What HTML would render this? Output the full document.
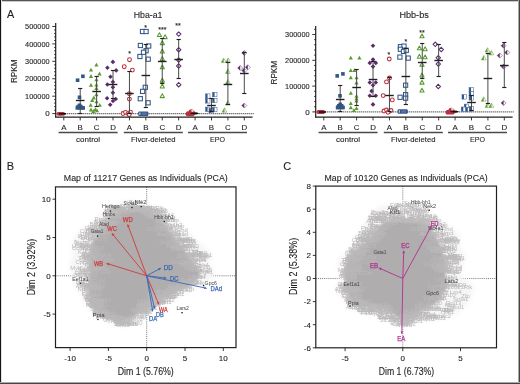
<!DOCTYPE html>
<html><head><meta charset="utf-8"><style>
html,body{margin:0;padding:0;background:#fff;}
svg{display:block;will-change:transform;font-family:"Liberation Sans",sans-serif;}
</style></head><body>
<svg width="520" height="384" viewBox="0 0 520 384">
<defs>
<filter id="blur1" x="-10%" y="-10%" width="120%" height="120%"><feGaussianBlur stdDeviation="0.8"/></filter>
<filter id="blur2" x="-10%" y="-10%" width="120%" height="120%"><feGaussianBlur stdDeviation="2.5"/></filter>
</defs>
<rect x="0" y="0" width="520" height="384" fill="#fff"/>
<line x1="56.70" y1="113.60" x2="253.60" y2="113.60" stroke="#3a3a3a" stroke-width="1.2" stroke-dasharray="1,1"/>
<line x1="52.30" y1="113.60" x2="55.70" y2="113.60" stroke="#231f20" stroke-width="0.9" />
<line x1="52.30" y1="96.18" x2="55.70" y2="96.18" stroke="#231f20" stroke-width="0.9" />
<line x1="52.30" y1="78.76" x2="55.70" y2="78.76" stroke="#231f20" stroke-width="0.9" />
<line x1="52.30" y1="61.34" x2="55.70" y2="61.34" stroke="#231f20" stroke-width="0.9" />
<line x1="52.30" y1="43.92" x2="55.70" y2="43.92" stroke="#231f20" stroke-width="0.9" />
<line x1="52.30" y1="26.50" x2="55.70" y2="26.50" stroke="#231f20" stroke-width="0.9" />
<line x1="54.10" y1="110.12" x2="55.70" y2="110.12" stroke="#231f20" stroke-width="0.9" />
<line x1="54.10" y1="106.63" x2="55.70" y2="106.63" stroke="#231f20" stroke-width="0.9" />
<line x1="54.10" y1="103.15" x2="55.70" y2="103.15" stroke="#231f20" stroke-width="0.9" />
<line x1="54.10" y1="99.66" x2="55.70" y2="99.66" stroke="#231f20" stroke-width="0.9" />
<line x1="54.10" y1="92.70" x2="55.70" y2="92.70" stroke="#231f20" stroke-width="0.9" />
<line x1="54.10" y1="89.21" x2="55.70" y2="89.21" stroke="#231f20" stroke-width="0.9" />
<line x1="54.10" y1="85.73" x2="55.70" y2="85.73" stroke="#231f20" stroke-width="0.9" />
<line x1="54.10" y1="82.24" x2="55.70" y2="82.24" stroke="#231f20" stroke-width="0.9" />
<line x1="54.10" y1="75.28" x2="55.70" y2="75.28" stroke="#231f20" stroke-width="0.9" />
<line x1="54.10" y1="71.79" x2="55.70" y2="71.79" stroke="#231f20" stroke-width="0.9" />
<line x1="54.10" y1="68.31" x2="55.70" y2="68.31" stroke="#231f20" stroke-width="0.9" />
<line x1="54.10" y1="64.82" x2="55.70" y2="64.82" stroke="#231f20" stroke-width="0.9" />
<line x1="54.10" y1="57.86" x2="55.70" y2="57.86" stroke="#231f20" stroke-width="0.9" />
<line x1="54.10" y1="54.37" x2="55.70" y2="54.37" stroke="#231f20" stroke-width="0.9" />
<line x1="54.10" y1="50.89" x2="55.70" y2="50.89" stroke="#231f20" stroke-width="0.9" />
<line x1="54.10" y1="47.40" x2="55.70" y2="47.40" stroke="#231f20" stroke-width="0.9" />
<line x1="54.10" y1="40.44" x2="55.70" y2="40.44" stroke="#231f20" stroke-width="0.9" />
<line x1="54.10" y1="36.95" x2="55.70" y2="36.95" stroke="#231f20" stroke-width="0.9" />
<line x1="54.10" y1="33.47" x2="55.70" y2="33.47" stroke="#231f20" stroke-width="0.9" />
<line x1="54.10" y1="29.98" x2="55.70" y2="29.98" stroke="#231f20" stroke-width="0.9" />
<text x="49.60" y="116.30" font-size="8.0" text-anchor="end" fill="#231f20" stroke="#231f20" stroke-width="0.12" >0</text>
<text x="49.60" y="98.88" font-size="8.0" text-anchor="end" fill="#231f20" stroke="#231f20" stroke-width="0.12" textLength="24.5" lengthAdjust="spacingAndGlyphs" >100000</text>
<text x="49.60" y="81.46" font-size="8.0" text-anchor="end" fill="#231f20" stroke="#231f20" stroke-width="0.12" textLength="24.5" lengthAdjust="spacingAndGlyphs" >200000</text>
<text x="49.60" y="64.04" font-size="8.0" text-anchor="end" fill="#231f20" stroke="#231f20" stroke-width="0.12" textLength="24.5" lengthAdjust="spacingAndGlyphs" >300000</text>
<text x="49.60" y="46.62" font-size="8.0" text-anchor="end" fill="#231f20" stroke="#231f20" stroke-width="0.12" textLength="24.5" lengthAdjust="spacingAndGlyphs" >400000</text>
<text x="49.60" y="29.20" font-size="8.0" text-anchor="end" fill="#231f20" stroke="#231f20" stroke-width="0.12" textLength="24.5" lengthAdjust="spacingAndGlyphs" >500000</text>
<line x1="63.80" y1="117.10" x2="63.80" y2="120.40" stroke="#231f20" stroke-width="0.9" />
<text x="63.80" y="130.20" font-size="7.9" text-anchor="middle" fill="#231f20" stroke="#231f20" stroke-width="0.12" >A</text>
<line x1="80.21" y1="117.10" x2="80.21" y2="120.40" stroke="#231f20" stroke-width="0.9" />
<text x="80.21" y="130.20" font-size="7.9" text-anchor="middle" fill="#231f20" stroke="#231f20" stroke-width="0.12" >B</text>
<line x1="96.62" y1="117.10" x2="96.62" y2="120.40" stroke="#231f20" stroke-width="0.9" />
<text x="96.62" y="130.20" font-size="7.9" text-anchor="middle" fill="#231f20" stroke="#231f20" stroke-width="0.12" >C</text>
<line x1="113.03" y1="117.10" x2="113.03" y2="120.40" stroke="#231f20" stroke-width="0.9" />
<text x="113.03" y="130.20" font-size="7.9" text-anchor="middle" fill="#231f20" stroke="#231f20" stroke-width="0.12" >D</text>
<line x1="129.44" y1="117.10" x2="129.44" y2="120.40" stroke="#231f20" stroke-width="0.9" />
<text x="129.44" y="130.20" font-size="7.9" text-anchor="middle" fill="#231f20" stroke="#231f20" stroke-width="0.12" >A</text>
<line x1="145.85" y1="117.10" x2="145.85" y2="120.40" stroke="#231f20" stroke-width="0.9" />
<text x="145.85" y="130.20" font-size="7.9" text-anchor="middle" fill="#231f20" stroke="#231f20" stroke-width="0.12" >B</text>
<line x1="162.26" y1="117.10" x2="162.26" y2="120.40" stroke="#231f20" stroke-width="0.9" />
<text x="162.26" y="130.20" font-size="7.9" text-anchor="middle" fill="#231f20" stroke="#231f20" stroke-width="0.12" >C</text>
<line x1="178.67" y1="117.10" x2="178.67" y2="120.40" stroke="#231f20" stroke-width="0.9" />
<text x="178.67" y="130.20" font-size="7.9" text-anchor="middle" fill="#231f20" stroke="#231f20" stroke-width="0.12" >D</text>
<line x1="195.08" y1="117.10" x2="195.08" y2="120.40" stroke="#231f20" stroke-width="0.9" />
<text x="195.08" y="130.20" font-size="7.9" text-anchor="middle" fill="#231f20" stroke="#231f20" stroke-width="0.12" >A</text>
<line x1="211.49" y1="117.10" x2="211.49" y2="120.40" stroke="#231f20" stroke-width="0.9" />
<text x="211.49" y="130.20" font-size="7.9" text-anchor="middle" fill="#231f20" stroke="#231f20" stroke-width="0.12" >B</text>
<line x1="227.90" y1="117.10" x2="227.90" y2="120.40" stroke="#231f20" stroke-width="0.9" />
<text x="227.90" y="130.20" font-size="7.9" text-anchor="middle" fill="#231f20" stroke="#231f20" stroke-width="0.12" >C</text>
<line x1="244.31" y1="117.10" x2="244.31" y2="120.40" stroke="#231f20" stroke-width="0.9" />
<text x="244.31" y="130.20" font-size="7.9" text-anchor="middle" fill="#231f20" stroke="#231f20" stroke-width="0.12" >D</text>
<line x1="58.60" y1="132.50" x2="117.60" y2="132.50" stroke="#4a4a4a" stroke-width="1.4" />
<text x="88.10" y="142.40" font-size="7.9" text-anchor="middle" fill="#231f20" stroke="#231f20" stroke-width="0.12" textLength="24.0" lengthAdjust="spacingAndGlyphs" >control</text>
<line x1="123.80" y1="132.50" x2="182.80" y2="132.50" stroke="#4a4a4a" stroke-width="1.4" />
<text x="153.30" y="142.40" font-size="7.9" text-anchor="middle" fill="#231f20" stroke="#231f20" stroke-width="0.12" textLength="44.5" lengthAdjust="spacingAndGlyphs" >Flvcr-deleted</text>
<line x1="188.00" y1="132.50" x2="247.00" y2="132.50" stroke="#4a4a4a" stroke-width="1.4" />
<text x="217.50" y="142.40" font-size="7.9" text-anchor="middle" fill="#231f20" stroke="#231f20" stroke-width="0.12" textLength="15.0" lengthAdjust="spacingAndGlyphs" >EPO</text>
<text x="148.10" y="18.40" font-size="9.6" text-anchor="middle" fill="#231f20" stroke="#231f20" stroke-width="0.12" textLength="28.8" lengthAdjust="spacingAndGlyphs" >Hba-a1</text>
<text transform="translate(16.50,71.3) rotate(-90)" font-size="8.4" text-anchor="middle" fill="#231f20" stroke="#231f20" stroke-width="0.12" textLength="23.6" lengthAdjust="spacingAndGlyphs">RPKM</text>
<rect x="75.80" y="78.40" width="3.6" height="3.6" fill="#33568a"/>
<rect x="81.10" y="74.50" width="3.6" height="3.6" fill="#33568a"/>
<rect x="77.70" y="95.50" width="3.6" height="3.6" fill="#33568a"/>
<rect x="77.70" y="103.50" width="3.6" height="3.6" fill="#33568a"/>
<rect x="76.40" y="104.80" width="3.6" height="3.6" fill="#33568a"/>
<rect x="79.00" y="104.80" width="3.6" height="3.6" fill="#33568a"/>
<rect x="75.50" y="106.10" width="3.6" height="3.6" fill="#33568a"/>
<rect x="77.70" y="106.10" width="3.6" height="3.6" fill="#33568a"/>
<rect x="79.90" y="106.10" width="3.6" height="3.6" fill="#33568a"/>
<rect x="81.40" y="106.10" width="3.6" height="3.6" fill="#33568a"/>
<polygon points="96.40,62.80 98.50,66.60 94.30,66.60" fill="#5a9b30"/>
<polygon points="91.00,67.70 93.10,71.50 88.90,71.50" fill="#5a9b30"/>
<polygon points="99.50,71.60 101.60,75.40 97.40,75.40" fill="#5a9b30"/>
<polygon points="91.00,74.10 93.10,77.90 88.90,77.90" fill="#5a9b30"/>
<polygon points="96.40,77.40 98.50,81.20 94.30,81.20" fill="#5a9b30"/>
<polygon points="91.00,82.90 93.10,86.70 88.90,86.70" fill="#5a9b30"/>
<polygon points="96.40,82.70 98.50,86.50 94.30,86.50" fill="#5a9b30"/>
<polygon points="96.40,86.10 98.50,89.90 94.30,89.90" fill="#5a9b30"/>
<polygon points="96.40,92.50 98.50,96.30 94.30,96.30" fill="#5a9b30"/>
<polygon points="93.80,95.60 95.90,99.40 91.70,99.40" fill="#5a9b30"/>
<polygon points="92.25,98.30 94.35,102.10 90.15,102.10" fill="#5a9b30"/>
<polygon points="96.50,99.40 98.60,103.20 94.40,103.20" fill="#5a9b30"/>
<polygon points="90.70,102.90 92.80,106.70 88.60,106.70" fill="#5a9b30"/>
<polygon points="99.70,102.90 101.80,106.70 97.60,106.70" fill="#5a9b30"/>
<polygon points="91.00,107.60 93.10,111.40 88.90,111.40" fill="#5a9b30"/>
<polygon points="95.40,107.20 97.50,111.00 93.30,111.00" fill="#5a9b30"/>
<polygon points="97.00,108.40 99.10,112.20 94.90,112.20" fill="#5a9b30"/>
<polygon points="93.40,109.10 95.50,112.90 91.30,112.90" fill="#5a9b30"/>
<polygon points="112.90,59.60 115.20,61.90 112.90,64.20 110.60,61.90" fill="#5b2b6c"/>
<polygon points="107.40,65.50 109.70,67.80 107.40,70.10 105.10,67.80" fill="#5b2b6c"/>
<polygon points="116.20,68.10 118.50,70.40 116.20,72.70 113.90,70.40" fill="#5b2b6c"/>
<polygon points="110.50,74.40 112.80,76.70 110.50,79.00 108.20,76.70" fill="#5b2b6c"/>
<polygon points="112.90,79.60 115.20,81.90 112.90,84.20 110.60,81.90" fill="#5b2b6c"/>
<polygon points="107.40,82.20 109.70,84.50 107.40,86.80 105.10,84.50" fill="#5b2b6c"/>
<polygon points="112.90,85.00 115.20,87.30 112.90,89.60 110.60,87.30" fill="#5b2b6c"/>
<polygon points="112.90,90.50 115.20,92.80 112.90,95.10 110.60,92.80" fill="#5b2b6c"/>
<polygon points="107.10,95.90 109.40,98.20 107.10,100.50 104.80,98.20" fill="#5b2b6c"/>
<polygon points="115.70,96.70 118.00,99.00 115.70,101.30 113.40,99.00" fill="#5b2b6c"/>
<polygon points="113.00,98.70 115.30,101.00 113.00,103.30 110.70,101.00" fill="#5b2b6c"/>
<polygon points="110.20,102.50 112.50,104.80 110.20,107.10 107.90,104.80" fill="#5b2b6c"/>
<circle cx="129.50" cy="59.70" r="1.9" fill="#fff" stroke="#b8313f" stroke-width="1.05"/>
<circle cx="124.25" cy="66.70" r="1.9" fill="#fff" stroke="#b8313f" stroke-width="1.05"/>
<circle cx="132.40" cy="70.10" r="1.9" fill="#fff" stroke="#b8313f" stroke-width="1.05"/>
<circle cx="129.40" cy="93.70" r="1.9" fill="#fff" stroke="#b8313f" stroke-width="1.05"/>
<circle cx="129.40" cy="99.10" r="1.9" fill="#fff" stroke="#b8313f" stroke-width="1.05"/>
<circle cx="123.00" cy="113.50" r="1.9" fill="#fff" stroke="#b8313f" stroke-width="1.05"/>
<circle cx="125.50" cy="112.30" r="1.9" fill="#fff" stroke="#b8313f" stroke-width="1.05"/>
<circle cx="128.00" cy="113.60" r="1.9" fill="#fff" stroke="#b8313f" stroke-width="1.05"/>
<circle cx="130.50" cy="112.20" r="1.9" fill="#fff" stroke="#b8313f" stroke-width="1.05"/>
<circle cx="129.20" cy="114.60" r="1.9" fill="#fff" stroke="#b8313f" stroke-width="1.05"/>
<rect x="140.40" y="29.40" width="4.2" height="4.2" fill="#fff" stroke="#33568a" stroke-width="1.05"/>
<rect x="144.00" y="29.40" width="4.2" height="4.2" fill="#fff" stroke="#33568a" stroke-width="1.05"/>
<rect x="138.30" y="43.40" width="4.2" height="4.2" fill="#fff" stroke="#33568a" stroke-width="1.05"/>
<rect x="146.60" y="43.90" width="4.2" height="4.2" fill="#fff" stroke="#33568a" stroke-width="1.05"/>
<rect x="144.00" y="48.60" width="4.2" height="4.2" fill="#fff" stroke="#33568a" stroke-width="1.05"/>
<rect x="141.40" y="50.20" width="4.2" height="4.2" fill="#fff" stroke="#33568a" stroke-width="1.05"/>
<rect x="137.80" y="54.40" width="4.2" height="4.2" fill="#fff" stroke="#33568a" stroke-width="1.05"/>
<rect x="146.10" y="57.10" width="4.2" height="4.2" fill="#fff" stroke="#33568a" stroke-width="1.05"/>
<rect x="143.20" y="85.20" width="4.2" height="4.2" fill="#fff" stroke="#33568a" stroke-width="1.05"/>
<rect x="140.50" y="89.30" width="4.2" height="4.2" fill="#fff" stroke="#33568a" stroke-width="1.05"/>
<rect x="138.20" y="96.60" width="4.2" height="4.2" fill="#fff" stroke="#33568a" stroke-width="1.05"/>
<rect x="146.00" y="100.70" width="4.2" height="4.2" fill="#fff" stroke="#33568a" stroke-width="1.05"/>
<polygon points="159.40,32.70 161.50,36.50 157.30,36.50" fill="#fff" stroke="#5a9b30" stroke-width="1.05" stroke-linejoin="round"/>
<polygon points="165.10,34.80 167.20,38.60 163.00,38.60" fill="#fff" stroke="#5a9b30" stroke-width="1.05" stroke-linejoin="round"/>
<polygon points="162.30,40.80 164.40,44.60 160.20,44.60" fill="#fff" stroke="#5a9b30" stroke-width="1.05" stroke-linejoin="round"/>
<polygon points="162.30,49.10 164.40,52.90 160.20,52.90" fill="#fff" stroke="#5a9b30" stroke-width="1.05" stroke-linejoin="round"/>
<polygon points="162.30,56.60 164.40,60.40 160.20,60.40" fill="#fff" stroke="#5a9b30" stroke-width="1.05" stroke-linejoin="round"/>
<polygon points="162.30,64.90 164.40,68.70 160.20,68.70" fill="#fff" stroke="#5a9b30" stroke-width="1.05" stroke-linejoin="round"/>
<polygon points="162.30,78.30 164.40,82.10 160.20,82.10" fill="#fff" stroke="#5a9b30" stroke-width="1.05" stroke-linejoin="round"/>
<polygon points="162.30,84.10 164.40,87.90 160.20,87.90" fill="#fff" stroke="#5a9b30" stroke-width="1.05" stroke-linejoin="round"/>
<polygon points="162.30,93.80 164.40,97.60 160.20,97.60" fill="#fff" stroke="#5a9b30" stroke-width="1.05" stroke-linejoin="round"/>
<polygon points="178.70,31.90 180.90,34.10 178.70,36.30 176.50,34.10" fill="#fff" stroke="#5b2b6c" stroke-width="1.05"/>
<polygon points="178.70,47.50 180.90,49.70 178.70,51.90 176.50,49.70" fill="#fff" stroke="#5b2b6c" stroke-width="1.05"/>
<polygon points="178.70,57.80 180.90,60.00 178.70,62.20 176.50,60.00" fill="#fff" stroke="#5b2b6c" stroke-width="1.05"/>
<polygon points="178.70,63.80 180.90,66.00 178.70,68.20 176.50,66.00" fill="#fff" stroke="#5b2b6c" stroke-width="1.05"/>
<polygon points="178.70,82.50 180.90,84.70 178.70,86.90 176.50,84.70" fill="#fff" stroke="#5b2b6c" stroke-width="1.05"/>
<rect x="205.60" y="93.90" width="4.4" height="4.4" fill="#fff" stroke="#33568a" stroke-width="0.5"/>
<rect x="205.60" y="93.90" width="1.9800000000000002" height="4.4" fill="#33568a"/>
<rect x="205.60" y="98.70" width="4.4" height="4.4" fill="#fff" stroke="#33568a" stroke-width="0.5"/>
<rect x="205.60" y="98.70" width="1.9800000000000002" height="4.4" fill="#33568a"/>
<rect x="212.60" y="92.40" width="4.4" height="4.4" fill="#fff" stroke="#33568a" stroke-width="0.5"/>
<rect x="212.60" y="92.40" width="1.9800000000000002" height="4.4" fill="#33568a"/>
<rect x="212.60" y="98.30" width="4.4" height="4.4" fill="#fff" stroke="#33568a" stroke-width="0.5"/>
<rect x="212.60" y="98.30" width="1.9800000000000002" height="4.4" fill="#33568a"/>
<rect x="205.60" y="107.10" width="4.4" height="4.4" fill="#fff" stroke="#33568a" stroke-width="0.5"/>
<rect x="205.60" y="107.10" width="1.9800000000000002" height="4.4" fill="#33568a"/>
<rect x="209.00" y="108.40" width="4.4" height="4.4" fill="#fff" stroke="#33568a" stroke-width="0.5"/>
<rect x="209.00" y="108.40" width="1.9800000000000002" height="4.4" fill="#33568a"/>
<rect x="212.60" y="107.40" width="4.4" height="4.4" fill="#fff" stroke="#33568a" stroke-width="0.5"/>
<rect x="212.60" y="107.40" width="1.9800000000000002" height="4.4" fill="#33568a"/>
<polygon points="223.70,58.00 226.10,62.40 221.30,62.40" fill="#fff" stroke="#5a9b30" stroke-width="0.5" stroke-linejoin="round"/>
<polygon points="223.70,58.00 223.70,62.40 221.30,62.40" fill="#5a9b30"/>
<polygon points="228.20,58.00 230.60,62.40 225.80,62.40" fill="#fff" stroke="#5a9b30" stroke-width="0.5" stroke-linejoin="round"/>
<polygon points="228.20,58.00 228.20,62.40 225.80,62.40" fill="#5a9b30"/>
<polygon points="227.90,69.05 230.30,73.45 225.50,73.45" fill="#fff" stroke="#5a9b30" stroke-width="0.5" stroke-linejoin="round"/>
<polygon points="227.90,69.05 227.90,73.45 225.50,73.45" fill="#5a9b30"/>
<polygon points="227.90,79.50 230.30,83.90 225.50,83.90" fill="#fff" stroke="#5a9b30" stroke-width="0.5" stroke-linejoin="round"/>
<polygon points="227.90,79.50 227.90,83.90 225.50,83.90" fill="#5a9b30"/>
<polygon points="227.90,100.60 230.30,105.00 225.50,105.00" fill="#fff" stroke="#5a9b30" stroke-width="0.5" stroke-linejoin="round"/>
<polygon points="227.90,100.60 227.90,105.00 225.50,105.00" fill="#5a9b30"/>
<polygon points="224.50,107.80 226.90,112.20 222.10,112.20" fill="#fff" stroke="#5a9b30" stroke-width="0.5" stroke-linejoin="round"/>
<polygon points="224.50,107.80 224.50,112.20 222.10,112.20" fill="#5a9b30"/>
<polygon points="244.30,50.50 246.80,53.00 244.30,55.50 241.80,53.00" fill="#fff" stroke="#5b2b6c" stroke-width="0.5"/>
<polygon points="244.30,50.50 244.30,55.50 241.80,53.00" fill="#5b2b6c"/>
<polygon points="240.20,65.50 242.70,68.00 240.20,70.50 237.70,68.00" fill="#fff" stroke="#5b2b6c" stroke-width="0.5"/>
<polygon points="240.20,65.50 240.20,70.50 237.70,68.00" fill="#5b2b6c"/>
<polygon points="247.80,64.80 250.30,67.30 247.80,69.80 245.30,67.30" fill="#fff" stroke="#5b2b6c" stroke-width="0.5"/>
<polygon points="247.80,64.80 247.80,69.80 245.30,67.30" fill="#5b2b6c"/>
<polygon points="244.30,68.10 246.80,70.60 244.30,73.10 241.80,70.60" fill="#fff" stroke="#5b2b6c" stroke-width="0.5"/>
<polygon points="244.30,68.10 244.30,73.10 241.80,70.60" fill="#5b2b6c"/>
<polygon points="244.30,103.10 246.80,105.60 244.30,108.10 241.80,105.60" fill="#fff" stroke="#5b2b6c" stroke-width="0.5"/>
<polygon points="244.30,103.10 244.30,108.10 241.80,105.60" fill="#5b2b6c"/>
<line x1="80.21" y1="88.40" x2="80.21" y2="113.40" stroke="#4a4a4a" stroke-width="1.0" />
<line x1="78.11" y1="88.50" x2="82.31" y2="88.50" stroke="#231f20" stroke-width="1.15" />
<line x1="78.11" y1="113.50" x2="82.31" y2="113.50" stroke="#231f20" stroke-width="1.15" />
<line x1="75.91" y1="100.50" x2="84.51" y2="100.50" stroke="#231f20" stroke-width="1.4" />
<line x1="96.62" y1="76.10" x2="96.62" y2="106.40" stroke="#4a4a4a" stroke-width="1.0" />
<line x1="94.52" y1="76.50" x2="98.72" y2="76.50" stroke="#231f20" stroke-width="1.15" />
<line x1="94.52" y1="106.50" x2="98.72" y2="106.50" stroke="#231f20" stroke-width="1.15" />
<line x1="92.32" y1="91.50" x2="100.92" y2="91.50" stroke="#231f20" stroke-width="1.4" />
<line x1="113.03" y1="70.40" x2="113.03" y2="98.20" stroke="#4a4a4a" stroke-width="1.0" />
<line x1="110.93" y1="70.50" x2="115.13" y2="70.50" stroke="#231f20" stroke-width="1.15" />
<line x1="110.93" y1="98.50" x2="115.13" y2="98.50" stroke="#231f20" stroke-width="1.15" />
<line x1="108.73" y1="84.50" x2="117.33" y2="84.50" stroke="#231f20" stroke-width="1.4" />
<line x1="129.44" y1="71.10" x2="129.44" y2="113.50" stroke="#4a4a4a" stroke-width="1.0" />
<line x1="127.34" y1="71.50" x2="131.54" y2="71.50" stroke="#231f20" stroke-width="1.15" />
<line x1="127.34" y1="113.50" x2="131.54" y2="113.50" stroke="#231f20" stroke-width="1.15" />
<line x1="125.14" y1="93.50" x2="133.74" y2="93.50" stroke="#231f20" stroke-width="1.4" />
<line x1="145.85" y1="44.50" x2="145.85" y2="107.20" stroke="#4a4a4a" stroke-width="1.0" />
<line x1="143.75" y1="44.50" x2="147.95" y2="44.50" stroke="#231f20" stroke-width="1.15" />
<line x1="143.75" y1="107.50" x2="147.95" y2="107.50" stroke="#231f20" stroke-width="1.15" />
<line x1="141.55" y1="75.50" x2="150.15" y2="75.50" stroke="#231f20" stroke-width="1.4" />
<line x1="162.26" y1="38.75" x2="162.26" y2="83.60" stroke="#4a4a4a" stroke-width="1.0" />
<line x1="160.16" y1="38.50" x2="164.36" y2="38.50" stroke="#231f20" stroke-width="1.15" />
<line x1="160.16" y1="83.50" x2="164.36" y2="83.50" stroke="#231f20" stroke-width="1.15" />
<line x1="157.96" y1="61.50" x2="166.56" y2="61.50" stroke="#231f20" stroke-width="1.4" />
<line x1="178.67" y1="39.80" x2="178.67" y2="78.10" stroke="#4a4a4a" stroke-width="1.0" />
<line x1="176.57" y1="39.50" x2="180.77" y2="39.50" stroke="#231f20" stroke-width="1.15" />
<line x1="176.57" y1="78.50" x2="180.77" y2="78.50" stroke="#231f20" stroke-width="1.15" />
<line x1="174.37" y1="59.50" x2="182.97" y2="59.50" stroke="#231f20" stroke-width="1.4" />
<line x1="211.49" y1="98.50" x2="211.49" y2="111.40" stroke="#4a4a4a" stroke-width="1.0" />
<line x1="209.39" y1="98.50" x2="213.59" y2="98.50" stroke="#231f20" stroke-width="1.15" />
<line x1="209.39" y1="111.50" x2="213.59" y2="111.50" stroke="#231f20" stroke-width="1.15" />
<line x1="207.19" y1="105.50" x2="215.79" y2="105.50" stroke="#231f20" stroke-width="1.4" />
<line x1="227.90" y1="62.40" x2="227.90" y2="104.60" stroke="#4a4a4a" stroke-width="1.0" />
<line x1="225.80" y1="62.50" x2="230.00" y2="62.50" stroke="#231f20" stroke-width="1.15" />
<line x1="225.80" y1="104.50" x2="230.00" y2="104.50" stroke="#231f20" stroke-width="1.15" />
<line x1="223.60" y1="84.50" x2="232.20" y2="84.50" stroke="#231f20" stroke-width="1.4" />
<line x1="244.31" y1="52.70" x2="244.31" y2="93.20" stroke="#4a4a4a" stroke-width="1.0" />
<line x1="242.21" y1="52.50" x2="246.41" y2="52.50" stroke="#231f20" stroke-width="1.15" />
<line x1="242.21" y1="93.50" x2="246.41" y2="93.50" stroke="#231f20" stroke-width="1.15" />
<line x1="240.01" y1="73.50" x2="248.61" y2="73.50" stroke="#231f20" stroke-width="1.4" />
<rect x="138.20" y="111.40" width="10.2" height="4.6" rx="1.2" fill="#33568a"/>
<rect x="139.40" y="112.50" width="1.0" height="2.4" fill="#fff" opacity="0.85"/>
<rect x="142.00" y="112.50" width="4.6" height="2.4" fill="#5a78a4" opacity="0.9"/>
<rect x="56.50" y="111.90" width="8.7" height="3.8" rx="1.9" fill="#b8313f"/>
<line x1="59.00" y1="113.80" x2="66.00" y2="113.80" stroke="#111" stroke-width="1.5" />
<path d="M185.70,114.50 C185.70,111.70 187.20,111.50 188.70,111.30 C188.90,108.70 193.20,108.50 194.30,111.10 C195.50,112.30 195.50,115.90 193.20,116.20 L187.70,116.20 C186.10,116.10 185.70,115.30 185.70,114.50 Z" fill="#b8313f"/>
<circle cx="192.50" cy="110.70" r="1.3" fill="#fff" opacity="0.8"/>
<polygon points="190.30,113.10 196.20,112.20 199.30,113.30 196.20,114.40 190.30,113.70" fill="#111"/>
<text x="129.70" y="56.40" font-size="7.0" text-anchor="middle" fill="#231f20" stroke="#231f20" stroke-width="0.12" >*</text>
<text x="145.60" y="30.40" font-size="7.0" text-anchor="middle" fill="#231f20" stroke="#231f20" stroke-width="0.12" >*</text>
<text x="162.30" y="32.20" font-size="7.0" text-anchor="middle" fill="#231f20" stroke="#231f20" stroke-width="0.12" >***</text>
<text x="178.10" y="27.90" font-size="7.0" text-anchor="middle" fill="#231f20" stroke="#231f20" stroke-width="0.12" >**</text>
<line x1="55.70" y1="23.10" x2="55.70" y2="117.60" stroke="#231f20" stroke-width="1.2" />
<line x1="55.10" y1="117.10" x2="252.60" y2="117.10" stroke="#231f20" stroke-width="1.1" />
<line x1="316.70" y1="111.90" x2="513.60" y2="111.90" stroke="#3a3a3a" stroke-width="1.2" stroke-dasharray="1,1"/>
<line x1="312.30" y1="111.90" x2="315.70" y2="111.90" stroke="#231f20" stroke-width="0.9" />
<line x1="312.30" y1="86.10" x2="315.70" y2="86.10" stroke="#231f20" stroke-width="0.9" />
<line x1="312.30" y1="60.30" x2="315.70" y2="60.30" stroke="#231f20" stroke-width="0.9" />
<line x1="312.30" y1="34.50" x2="315.70" y2="34.50" stroke="#231f20" stroke-width="0.9" />
<line x1="314.10" y1="106.74" x2="315.70" y2="106.74" stroke="#231f20" stroke-width="0.9" />
<line x1="314.10" y1="101.58" x2="315.70" y2="101.58" stroke="#231f20" stroke-width="0.9" />
<line x1="314.10" y1="96.42" x2="315.70" y2="96.42" stroke="#231f20" stroke-width="0.9" />
<line x1="314.10" y1="91.26" x2="315.70" y2="91.26" stroke="#231f20" stroke-width="0.9" />
<line x1="314.10" y1="80.94" x2="315.70" y2="80.94" stroke="#231f20" stroke-width="0.9" />
<line x1="314.10" y1="75.78" x2="315.70" y2="75.78" stroke="#231f20" stroke-width="0.9" />
<line x1="314.10" y1="70.62" x2="315.70" y2="70.62" stroke="#231f20" stroke-width="0.9" />
<line x1="314.10" y1="65.46" x2="315.70" y2="65.46" stroke="#231f20" stroke-width="0.9" />
<line x1="314.10" y1="55.14" x2="315.70" y2="55.14" stroke="#231f20" stroke-width="0.9" />
<line x1="314.10" y1="49.98" x2="315.70" y2="49.98" stroke="#231f20" stroke-width="0.9" />
<line x1="314.10" y1="44.82" x2="315.70" y2="44.82" stroke="#231f20" stroke-width="0.9" />
<line x1="314.10" y1="39.66" x2="315.70" y2="39.66" stroke="#231f20" stroke-width="0.9" />
<line x1="314.10" y1="29.34" x2="315.70" y2="29.34" stroke="#231f20" stroke-width="0.9" />
<text x="309.60" y="114.60" font-size="8.0" text-anchor="end" fill="#231f20" stroke="#231f20" stroke-width="0.12" >0</text>
<text x="309.60" y="88.80" font-size="8.0" text-anchor="end" fill="#231f20" stroke="#231f20" stroke-width="0.12" textLength="24.5" lengthAdjust="spacingAndGlyphs" >100000</text>
<text x="309.60" y="63.00" font-size="8.0" text-anchor="end" fill="#231f20" stroke="#231f20" stroke-width="0.12" textLength="24.5" lengthAdjust="spacingAndGlyphs" >200000</text>
<text x="309.60" y="37.20" font-size="8.0" text-anchor="end" fill="#231f20" stroke="#231f20" stroke-width="0.12" textLength="24.5" lengthAdjust="spacingAndGlyphs" >300000</text>
<line x1="323.80" y1="117.10" x2="323.80" y2="120.40" stroke="#231f20" stroke-width="0.9" />
<text x="323.80" y="130.20" font-size="7.9" text-anchor="middle" fill="#231f20" stroke="#231f20" stroke-width="0.12" >A</text>
<line x1="340.21" y1="117.10" x2="340.21" y2="120.40" stroke="#231f20" stroke-width="0.9" />
<text x="340.21" y="130.20" font-size="7.9" text-anchor="middle" fill="#231f20" stroke="#231f20" stroke-width="0.12" >B</text>
<line x1="356.62" y1="117.10" x2="356.62" y2="120.40" stroke="#231f20" stroke-width="0.9" />
<text x="356.62" y="130.20" font-size="7.9" text-anchor="middle" fill="#231f20" stroke="#231f20" stroke-width="0.12" >C</text>
<line x1="373.03" y1="117.10" x2="373.03" y2="120.40" stroke="#231f20" stroke-width="0.9" />
<text x="373.03" y="130.20" font-size="7.9" text-anchor="middle" fill="#231f20" stroke="#231f20" stroke-width="0.12" >D</text>
<line x1="389.44" y1="117.10" x2="389.44" y2="120.40" stroke="#231f20" stroke-width="0.9" />
<text x="389.44" y="130.20" font-size="7.9" text-anchor="middle" fill="#231f20" stroke="#231f20" stroke-width="0.12" >A</text>
<line x1="405.85" y1="117.10" x2="405.85" y2="120.40" stroke="#231f20" stroke-width="0.9" />
<text x="405.85" y="130.20" font-size="7.9" text-anchor="middle" fill="#231f20" stroke="#231f20" stroke-width="0.12" >B</text>
<line x1="422.26" y1="117.10" x2="422.26" y2="120.40" stroke="#231f20" stroke-width="0.9" />
<text x="422.26" y="130.20" font-size="7.9" text-anchor="middle" fill="#231f20" stroke="#231f20" stroke-width="0.12" >C</text>
<line x1="438.67" y1="117.10" x2="438.67" y2="120.40" stroke="#231f20" stroke-width="0.9" />
<text x="438.67" y="130.20" font-size="7.9" text-anchor="middle" fill="#231f20" stroke="#231f20" stroke-width="0.12" >D</text>
<line x1="455.08" y1="117.10" x2="455.08" y2="120.40" stroke="#231f20" stroke-width="0.9" />
<text x="455.08" y="130.20" font-size="7.9" text-anchor="middle" fill="#231f20" stroke="#231f20" stroke-width="0.12" >A</text>
<line x1="471.49" y1="117.10" x2="471.49" y2="120.40" stroke="#231f20" stroke-width="0.9" />
<text x="471.49" y="130.20" font-size="7.9" text-anchor="middle" fill="#231f20" stroke="#231f20" stroke-width="0.12" >B</text>
<line x1="487.90" y1="117.10" x2="487.90" y2="120.40" stroke="#231f20" stroke-width="0.9" />
<text x="487.90" y="130.20" font-size="7.9" text-anchor="middle" fill="#231f20" stroke="#231f20" stroke-width="0.12" >C</text>
<line x1="504.31" y1="117.10" x2="504.31" y2="120.40" stroke="#231f20" stroke-width="0.9" />
<text x="504.31" y="130.20" font-size="7.9" text-anchor="middle" fill="#231f20" stroke="#231f20" stroke-width="0.12" >D</text>
<line x1="318.60" y1="132.50" x2="377.60" y2="132.50" stroke="#4a4a4a" stroke-width="1.4" />
<text x="348.10" y="142.40" font-size="7.9" text-anchor="middle" fill="#231f20" stroke="#231f20" stroke-width="0.12" textLength="24.0" lengthAdjust="spacingAndGlyphs" >control</text>
<line x1="383.80" y1="132.50" x2="442.80" y2="132.50" stroke="#4a4a4a" stroke-width="1.4" />
<text x="413.30" y="142.40" font-size="7.9" text-anchor="middle" fill="#231f20" stroke="#231f20" stroke-width="0.12" textLength="44.5" lengthAdjust="spacingAndGlyphs" >Flvcr-deleted</text>
<line x1="448.00" y1="132.50" x2="507.00" y2="132.50" stroke="#4a4a4a" stroke-width="1.4" />
<text x="477.50" y="142.40" font-size="7.9" text-anchor="middle" fill="#231f20" stroke="#231f20" stroke-width="0.12" textLength="15.0" lengthAdjust="spacingAndGlyphs" >EPO</text>
<text x="414.10" y="18.40" font-size="9.6" text-anchor="middle" fill="#231f20" stroke="#231f20" stroke-width="0.12" textLength="29.4" lengthAdjust="spacingAndGlyphs" >Hbb-bs</text>
<text transform="translate(276.50,72.7) rotate(-90)" font-size="8.4" text-anchor="middle" fill="#231f20" stroke="#231f20" stroke-width="0.12" textLength="23.6" lengthAdjust="spacingAndGlyphs">RPKM</text>
<rect x="335.40" y="74.10" width="3.6" height="3.6" fill="#33568a"/>
<rect x="341.10" y="72.10" width="3.6" height="3.6" fill="#33568a"/>
<rect x="338.20" y="94.00" width="3.6" height="3.6" fill="#33568a"/>
<rect x="338.40" y="102.60" width="3.6" height="3.6" fill="#33568a"/>
<rect x="337.00" y="104.00" width="3.6" height="3.6" fill="#33568a"/>
<rect x="339.80" y="104.00" width="3.6" height="3.6" fill="#33568a"/>
<rect x="336.00" y="105.50" width="3.6" height="3.6" fill="#33568a"/>
<rect x="338.40" y="105.50" width="3.6" height="3.6" fill="#33568a"/>
<rect x="340.80" y="105.50" width="3.6" height="3.6" fill="#33568a"/>
<rect x="335.80" y="105.80" width="3.6" height="3.6" fill="#33568a"/>
<rect x="341.10" y="105.80" width="3.6" height="3.6" fill="#33568a"/>
<polygon points="350.80,55.80 352.90,59.60 348.70,59.60" fill="#5a9b30"/>
<polygon points="359.40,55.80 361.50,59.60 357.30,59.60" fill="#5a9b30"/>
<polygon points="350.80,68.30 352.90,72.10 348.70,72.10" fill="#5a9b30"/>
<polygon points="354.40,68.30 356.50,72.10 352.30,72.10" fill="#5a9b30"/>
<polygon points="350.80,75.40 352.90,79.20 348.70,79.20" fill="#5a9b30"/>
<polygon points="356.50,75.40 358.60,79.20 354.40,79.20" fill="#5a9b30"/>
<polygon points="356.50,80.60 358.60,84.40 354.40,84.40" fill="#5a9b30"/>
<polygon points="350.80,91.00 352.90,94.80 348.70,94.80" fill="#5a9b30"/>
<polygon points="356.50,93.90 358.60,97.70 354.40,97.70" fill="#5a9b30"/>
<polygon points="356.50,96.50 358.60,100.30 354.40,100.30" fill="#5a9b30"/>
<polygon points="356.50,98.60 358.60,102.40 354.40,102.40" fill="#5a9b30"/>
<polygon points="350.80,101.20 352.90,105.00 348.70,105.00" fill="#5a9b30"/>
<polygon points="350.80,105.40 352.90,109.20 348.70,109.20" fill="#5a9b30"/>
<polygon points="353.90,108.30 356.00,112.10 351.80,112.10" fill="#5a9b30"/>
<polygon points="356.50,106.20 358.60,110.00 354.40,110.00" fill="#5a9b30"/>
<polygon points="373.00,43.40 375.30,45.70 373.00,48.00 370.70,45.70" fill="#5b2b6c"/>
<polygon points="373.00,57.30 375.30,59.60 373.00,61.90 370.70,59.60" fill="#5b2b6c"/>
<polygon points="369.80,60.60 372.10,62.90 369.80,65.20 367.50,62.90" fill="#5b2b6c"/>
<polygon points="375.80,60.60 378.10,62.90 375.80,65.20 373.50,62.90" fill="#5b2b6c"/>
<polygon points="373.00,64.30 375.30,66.60 373.00,68.90 370.70,66.60" fill="#5b2b6c"/>
<polygon points="369.80,80.20 372.10,82.50 369.80,84.80 367.50,82.50" fill="#5b2b6c"/>
<polygon points="375.80,80.20 378.10,82.50 375.80,84.80 373.50,82.50" fill="#5b2b6c"/>
<polygon points="373.00,82.90 375.30,85.20 373.00,87.50 370.70,85.20" fill="#5b2b6c"/>
<polygon points="371.60,88.80 373.90,91.10 371.60,93.40 369.30,91.10" fill="#5b2b6c"/>
<polygon points="369.80,93.50 372.10,95.80 369.80,98.10 367.50,95.80" fill="#5b2b6c"/>
<polygon points="375.80,93.50 378.10,95.80 375.80,98.10 373.50,95.80" fill="#5b2b6c"/>
<polygon points="373.00,102.10 375.30,104.40 373.00,106.70 370.70,104.40" fill="#5b2b6c"/>
<circle cx="389.25" cy="59.00" r="1.9" fill="#fff" stroke="#b8313f" stroke-width="1.05"/>
<circle cx="389.50" cy="78.00" r="1.9" fill="#fff" stroke="#b8313f" stroke-width="1.05"/>
<circle cx="386.50" cy="81.90" r="1.9" fill="#fff" stroke="#b8313f" stroke-width="1.05"/>
<circle cx="383.20" cy="95.60" r="1.9" fill="#fff" stroke="#b8313f" stroke-width="1.05"/>
<circle cx="392.30" cy="99.90" r="1.9" fill="#fff" stroke="#b8313f" stroke-width="1.05"/>
<circle cx="384.00" cy="111.00" r="1.9" fill="#fff" stroke="#b8313f" stroke-width="1.05"/>
<circle cx="386.50" cy="110.00" r="1.9" fill="#fff" stroke="#b8313f" stroke-width="1.05"/>
<circle cx="389.00" cy="111.50" r="1.9" fill="#fff" stroke="#b8313f" stroke-width="1.05"/>
<circle cx="391.00" cy="110.50" r="1.9" fill="#fff" stroke="#b8313f" stroke-width="1.05"/>
<circle cx="388.00" cy="112.30" r="1.9" fill="#fff" stroke="#b8313f" stroke-width="1.05"/>
<rect x="398.30" y="44.60" width="4.2" height="4.2" fill="#fff" stroke="#33568a" stroke-width="1.05"/>
<rect x="401.90" y="44.00" width="4.2" height="4.2" fill="#fff" stroke="#33568a" stroke-width="1.05"/>
<rect x="398.30" y="47.20" width="4.2" height="4.2" fill="#fff" stroke="#33568a" stroke-width="1.05"/>
<rect x="401.40" y="49.30" width="4.2" height="4.2" fill="#fff" stroke="#33568a" stroke-width="1.05"/>
<rect x="404.20" y="48.20" width="4.2" height="4.2" fill="#fff" stroke="#33568a" stroke-width="1.05"/>
<rect x="397.80" y="55.00" width="4.2" height="4.2" fill="#fff" stroke="#33568a" stroke-width="1.05"/>
<rect x="406.10" y="56.00" width="4.2" height="4.2" fill="#fff" stroke="#33568a" stroke-width="1.05"/>
<rect x="403.50" y="83.10" width="4.2" height="4.2" fill="#fff" stroke="#33568a" stroke-width="1.05"/>
<rect x="403.50" y="92.60" width="4.2" height="4.2" fill="#fff" stroke="#33568a" stroke-width="1.05"/>
<rect x="398.00" y="95.20" width="4.2" height="4.2" fill="#fff" stroke="#33568a" stroke-width="1.05"/>
<rect x="403.50" y="96.10" width="4.2" height="4.2" fill="#fff" stroke="#33568a" stroke-width="1.05"/>
<polygon points="422.00,34.00 424.10,37.80 419.90,37.80" fill="#fff" stroke="#5a9b30" stroke-width="1.05" stroke-linejoin="round"/>
<polygon points="419.40,46.00 421.50,49.80 417.30,49.80" fill="#fff" stroke="#5a9b30" stroke-width="1.05" stroke-linejoin="round"/>
<polygon points="425.10,46.85 427.20,50.65 423.00,50.65" fill="#fff" stroke="#5a9b30" stroke-width="1.05" stroke-linejoin="round"/>
<polygon points="419.40,54.35 421.50,58.15 417.30,58.15" fill="#fff" stroke="#5a9b30" stroke-width="1.05" stroke-linejoin="round"/>
<polygon points="425.10,54.90 427.20,58.70 423.00,58.70" fill="#fff" stroke="#5a9b30" stroke-width="1.05" stroke-linejoin="round"/>
<polygon points="422.00,62.40 424.10,66.20 419.90,66.20" fill="#fff" stroke="#5a9b30" stroke-width="1.05" stroke-linejoin="round"/>
<polygon points="422.00,73.10 424.10,76.90 419.90,76.90" fill="#fff" stroke="#5a9b30" stroke-width="1.05" stroke-linejoin="round"/>
<polygon points="422.00,80.30 424.10,84.10 419.90,84.10" fill="#fff" stroke="#5a9b30" stroke-width="1.05" stroke-linejoin="round"/>
<polygon points="422.00,88.20 424.10,92.00 419.90,92.00" fill="#fff" stroke="#5a9b30" stroke-width="1.05" stroke-linejoin="round"/>
<polygon points="435.30,42.10 437.50,44.30 435.30,46.50 433.10,44.30" fill="#fff" stroke="#5b2b6c" stroke-width="1.05"/>
<polygon points="441.25,47.30 443.45,49.50 441.25,51.70 439.05,49.50" fill="#fff" stroke="#5b2b6c" stroke-width="1.05"/>
<polygon points="438.30,55.60 440.50,57.80 438.30,60.00 436.10,57.80" fill="#fff" stroke="#5b2b6c" stroke-width="1.05"/>
<polygon points="438.30,61.80 440.50,64.00 438.30,66.20 436.10,64.00" fill="#fff" stroke="#5b2b6c" stroke-width="1.05"/>
<polygon points="438.30,84.30 440.50,86.50 438.30,88.70 436.10,86.50" fill="#fff" stroke="#5b2b6c" stroke-width="1.05"/>
<rect x="462.00" y="94.70" width="4.4" height="4.4" fill="#fff" stroke="#33568a" stroke-width="0.5"/>
<rect x="462.00" y="94.70" width="1.9800000000000002" height="4.4" fill="#33568a"/>
<rect x="469.10" y="87.60" width="4.4" height="4.4" fill="#fff" stroke="#33568a" stroke-width="0.5"/>
<rect x="469.10" y="87.60" width="1.9800000000000002" height="4.4" fill="#33568a"/>
<rect x="469.10" y="91.70" width="4.4" height="4.4" fill="#fff" stroke="#33568a" stroke-width="0.5"/>
<rect x="469.10" y="91.70" width="1.9800000000000002" height="4.4" fill="#33568a"/>
<rect x="469.10" y="95.70" width="4.4" height="4.4" fill="#fff" stroke="#33568a" stroke-width="0.5"/>
<rect x="469.10" y="95.70" width="1.9800000000000002" height="4.4" fill="#33568a"/>
<rect x="464.30" y="104.10" width="4.4" height="4.4" fill="#fff" stroke="#33568a" stroke-width="0.5"/>
<rect x="464.30" y="104.10" width="1.9800000000000002" height="4.4" fill="#33568a"/>
<rect x="461.30" y="107.00" width="4.4" height="4.4" fill="#fff" stroke="#33568a" stroke-width="0.5"/>
<rect x="461.30" y="107.00" width="1.9800000000000002" height="4.4" fill="#33568a"/>
<rect x="465.80" y="107.40" width="4.4" height="4.4" fill="#fff" stroke="#33568a" stroke-width="0.5"/>
<rect x="465.80" y="107.40" width="1.9800000000000002" height="4.4" fill="#33568a"/>
<rect x="469.30" y="106.60" width="4.4" height="4.4" fill="#fff" stroke="#33568a" stroke-width="0.5"/>
<rect x="469.30" y="106.60" width="1.9800000000000002" height="4.4" fill="#33568a"/>
<polygon points="487.50,47.70 489.90,52.10 485.10,52.10" fill="#fff" stroke="#5a9b30" stroke-width="0.5" stroke-linejoin="round"/>
<polygon points="487.50,47.70 487.50,52.10 485.10,52.10" fill="#5a9b30"/>
<polygon points="491.40,50.50 493.80,54.90 489.00,54.90" fill="#fff" stroke="#5a9b30" stroke-width="0.5" stroke-linejoin="round"/>
<polygon points="491.40,50.50 491.40,54.90 489.00,54.90" fill="#5a9b30"/>
<polygon points="483.80,55.50 486.20,59.90 481.40,59.90" fill="#fff" stroke="#5a9b30" stroke-width="0.5" stroke-linejoin="round"/>
<polygon points="483.80,55.50 483.80,59.90 481.40,59.90" fill="#5a9b30"/>
<polygon points="483.70,96.80 486.10,101.20 481.30,101.20" fill="#fff" stroke="#5a9b30" stroke-width="0.5" stroke-linejoin="round"/>
<polygon points="483.70,96.80 483.70,101.20 481.30,101.20" fill="#5a9b30"/>
<polygon points="487.50,103.00 489.90,107.40 485.10,107.40" fill="#fff" stroke="#5a9b30" stroke-width="0.5" stroke-linejoin="round"/>
<polygon points="487.50,103.00 487.50,107.40 485.10,107.40" fill="#5a9b30"/>
<polygon points="491.50,103.00 493.90,107.40 489.10,107.40" fill="#fff" stroke="#5a9b30" stroke-width="0.5" stroke-linejoin="round"/>
<polygon points="491.50,103.00 491.50,107.40 489.10,107.40" fill="#5a9b30"/>
<polygon points="503.60,43.20 506.10,45.70 503.60,48.20 501.10,45.70" fill="#fff" stroke="#5b2b6c" stroke-width="0.5"/>
<polygon points="503.60,43.20 503.60,48.20 501.10,45.70" fill="#5b2b6c"/>
<polygon points="499.75,53.10 502.25,55.60 499.75,58.10 497.25,55.60" fill="#fff" stroke="#5b2b6c" stroke-width="0.5"/>
<polygon points="499.75,53.10 499.75,58.10 497.25,55.60" fill="#5b2b6c"/>
<polygon points="507.25,50.00 509.75,52.50 507.25,55.00 504.75,52.50" fill="#fff" stroke="#5b2b6c" stroke-width="0.5"/>
<polygon points="507.25,50.00 507.25,55.00 504.75,52.50" fill="#5b2b6c"/>
<polygon points="503.60,64.10 506.10,66.60 503.60,69.10 501.10,66.60" fill="#fff" stroke="#5b2b6c" stroke-width="0.5"/>
<polygon points="503.60,64.10 503.60,69.10 501.10,66.60" fill="#5b2b6c"/>
<polygon points="503.60,100.50 506.10,103.00 503.60,105.50 501.10,103.00" fill="#fff" stroke="#5b2b6c" stroke-width="0.5"/>
<polygon points="503.60,100.50 503.60,105.50 501.10,103.00" fill="#5b2b6c"/>
<line x1="340.21" y1="85.70" x2="340.21" y2="111.20" stroke="#4a4a4a" stroke-width="1.0" />
<line x1="338.11" y1="85.50" x2="342.31" y2="85.50" stroke="#231f20" stroke-width="1.15" />
<line x1="338.11" y1="111.50" x2="342.31" y2="111.50" stroke="#231f20" stroke-width="1.15" />
<line x1="335.91" y1="99.50" x2="344.51" y2="99.50" stroke="#231f20" stroke-width="1.4" />
<line x1="356.62" y1="69.20" x2="356.62" y2="105.40" stroke="#4a4a4a" stroke-width="1.0" />
<line x1="354.52" y1="69.50" x2="358.72" y2="69.50" stroke="#231f20" stroke-width="1.15" />
<line x1="354.52" y1="105.50" x2="358.72" y2="105.50" stroke="#231f20" stroke-width="1.15" />
<line x1="352.32" y1="87.50" x2="360.92" y2="87.50" stroke="#231f20" stroke-width="1.4" />
<line x1="373.03" y1="61.90" x2="373.03" y2="96.90" stroke="#4a4a4a" stroke-width="1.0" />
<line x1="370.93" y1="61.50" x2="375.13" y2="61.50" stroke="#231f20" stroke-width="1.15" />
<line x1="370.93" y1="96.50" x2="375.13" y2="96.50" stroke="#231f20" stroke-width="1.15" />
<line x1="368.73" y1="79.50" x2="377.33" y2="79.50" stroke="#231f20" stroke-width="1.4" />
<line x1="389.44" y1="77.00" x2="389.44" y2="111.50" stroke="#4a4a4a" stroke-width="1.0" />
<line x1="387.34" y1="77.50" x2="391.54" y2="77.50" stroke="#231f20" stroke-width="1.15" />
<line x1="387.34" y1="111.50" x2="391.54" y2="111.50" stroke="#231f20" stroke-width="1.15" />
<line x1="385.14" y1="95.50" x2="393.74" y2="95.50" stroke="#231f20" stroke-width="1.4" />
<line x1="405.85" y1="48.50" x2="405.85" y2="104.00" stroke="#4a4a4a" stroke-width="1.0" />
<line x1="403.75" y1="48.50" x2="407.95" y2="48.50" stroke="#231f20" stroke-width="1.15" />
<line x1="403.75" y1="104.50" x2="407.95" y2="104.50" stroke="#231f20" stroke-width="1.15" />
<line x1="401.55" y1="76.50" x2="410.15" y2="76.50" stroke="#231f20" stroke-width="1.4" />
<line x1="422.26" y1="43.75" x2="422.26" y2="78.90" stroke="#4a4a4a" stroke-width="1.0" />
<line x1="420.16" y1="43.50" x2="424.36" y2="43.50" stroke="#231f20" stroke-width="1.15" />
<line x1="420.16" y1="78.50" x2="424.36" y2="78.50" stroke="#231f20" stroke-width="1.15" />
<line x1="417.96" y1="62.50" x2="426.56" y2="62.50" stroke="#231f20" stroke-width="1.4" />
<line x1="438.67" y1="44.00" x2="438.67" y2="76.90" stroke="#4a4a4a" stroke-width="1.0" />
<line x1="436.57" y1="44.50" x2="440.77" y2="44.50" stroke="#231f20" stroke-width="1.15" />
<line x1="436.57" y1="76.50" x2="440.77" y2="76.50" stroke="#231f20" stroke-width="1.15" />
<line x1="434.37" y1="60.50" x2="442.97" y2="60.50" stroke="#231f20" stroke-width="1.4" />
<line x1="471.49" y1="95.70" x2="471.49" y2="110.20" stroke="#4a4a4a" stroke-width="1.0" />
<line x1="469.39" y1="95.50" x2="473.59" y2="95.50" stroke="#231f20" stroke-width="1.15" />
<line x1="469.39" y1="110.50" x2="473.59" y2="110.50" stroke="#231f20" stroke-width="1.15" />
<line x1="467.19" y1="102.50" x2="475.79" y2="102.50" stroke="#231f20" stroke-width="1.4" />
<line x1="487.90" y1="53.00" x2="487.90" y2="103.00" stroke="#4a4a4a" stroke-width="1.0" />
<line x1="485.80" y1="53.50" x2="490.00" y2="53.50" stroke="#231f20" stroke-width="1.15" />
<line x1="485.80" y1="103.50" x2="490.00" y2="103.50" stroke="#231f20" stroke-width="1.15" />
<line x1="483.60" y1="78.50" x2="492.20" y2="78.50" stroke="#231f20" stroke-width="1.4" />
<line x1="504.31" y1="42.10" x2="504.31" y2="87.00" stroke="#4a4a4a" stroke-width="1.0" />
<line x1="502.21" y1="42.50" x2="506.41" y2="42.50" stroke="#231f20" stroke-width="1.15" />
<line x1="502.21" y1="87.50" x2="506.41" y2="87.50" stroke="#231f20" stroke-width="1.15" />
<line x1="500.01" y1="65.50" x2="508.61" y2="65.50" stroke="#231f20" stroke-width="1.4" />
<rect x="397.60" y="109.20" width="10.2" height="4.6" rx="1.2" fill="#33568a"/>
<rect x="398.80" y="110.30" width="1.0" height="2.4" fill="#fff" opacity="0.85"/>
<rect x="401.40" y="110.30" width="4.6" height="2.4" fill="#5a78a4" opacity="0.9"/>
<rect x="316.50" y="110.10" width="8.7" height="3.8" rx="1.9" fill="#b8313f"/>
<line x1="319.00" y1="112.00" x2="326.00" y2="112.00" stroke="#111" stroke-width="1.5" />
<path d="M445.60,112.90 C445.60,110.10 447.10,109.90 448.60,109.70 C448.80,107.10 453.10,106.90 454.20,109.50 C455.40,110.70 455.40,114.30 453.10,114.60 L447.60,114.60 C446.00,114.50 445.60,113.70 445.60,112.90 Z" fill="#b8313f"/>
<circle cx="452.40" cy="109.10" r="1.3" fill="#fff" opacity="0.8"/>
<polygon points="450.20,111.50 456.10,110.60 459.20,111.70 456.10,112.80 450.20,112.10" fill="#111"/>
<text x="388.90" y="56.80" font-size="7.0" text-anchor="middle" fill="#231f20" stroke="#231f20" stroke-width="0.12" >*</text>
<text x="405.90" y="44.10" font-size="7.0" text-anchor="middle" fill="#231f20" stroke="#231f20" stroke-width="0.12" >*</text>
<text x="422.00" y="34.60" font-size="7.0" text-anchor="middle" fill="#231f20" stroke="#231f20" stroke-width="0.12" >**</text>
<line x1="315.70" y1="26.10" x2="315.70" y2="117.60" stroke="#231f20" stroke-width="1.2" />
<line x1="315.10" y1="117.10" x2="512.60" y2="117.10" stroke="#231f20" stroke-width="1.1" />
<text x="7.00" y="18.00" font-size="10.8" text-anchor="start" fill="#231f20" stroke="#231f20" stroke-width="0.12" >A</text>
<line x1="55.50" y1="275.80" x2="236.00" y2="275.80" stroke="#555" stroke-width="0.8" stroke-dasharray="1,1.1"/>
<line x1="146.70" y1="186.90" x2="146.70" y2="347.60" stroke="#555" stroke-width="0.8" stroke-dasharray="1,1.1"/>
<path d="M125.0,201.0 C128.8,200.3 131.7,200.3 135.0,201.0 C138.3,201.7 141.7,204.0 145.0,205.0 C148.3,206.0 151.7,206.4 155.0,207.0 C158.3,207.6 161.7,207.2 165.0,208.8 C168.3,210.3 171.7,213.5 175.0,216.6 C178.3,219.7 181.7,223.6 185.0,227.5 C188.3,231.4 192.0,236.9 195.0,240.0 C198.0,243.1 200.2,243.5 203.0,246.0 C205.8,248.5 211.0,251.8 212.0,255.0 C213.0,258.2 208.5,261.7 209.0,265.0 C209.5,268.3 216.3,271.7 215.0,275.0 C213.7,278.3 205.4,282.2 201.2,285.0 C197.1,287.8 193.5,289.9 190.0,291.7 C186.5,293.5 183.3,293.9 180.0,295.6 C176.7,297.3 173.3,300.3 170.0,301.9 C166.7,303.5 163.3,303.5 160.0,305.0 C156.7,306.5 153.3,308.8 150.0,311.0 C146.7,313.2 142.8,315.7 140.0,318.0 C137.2,320.3 135.5,323.7 133.0,325.0 C130.5,326.3 128.0,326.0 125.0,326.0 C122.0,326.0 118.3,326.0 115.0,325.0 C111.7,324.0 108.3,321.8 105.0,320.0 C101.7,318.2 98.3,317.0 95.0,314.0 C91.7,311.0 87.8,306.0 85.0,302.0 C82.2,298.0 80.2,294.5 78.0,290.0 C75.8,285.5 73.0,279.2 71.7,275.0 C70.4,270.8 69.8,268.3 70.0,265.0 C70.2,261.7 72.6,258.3 73.0,255.0 C73.4,251.7 72.1,248.3 72.5,245.0 C72.9,241.7 73.0,238.3 75.6,235.0 C78.2,231.7 83.6,228.5 88.0,225.0 C92.4,221.5 98.0,217.3 102.0,214.0 C106.0,210.7 108.2,207.2 112.0,205.0 C115.8,202.8 121.2,201.7 125.0,201.0 Z" fill="#f6f5f6" filter="url(#blur2)"/>
<path d="M120.0,211.0 C123.1,210.0 125.8,210.1 130.0,210.0 C134.2,209.9 140.8,209.2 145.0,210.3 C149.2,211.4 152.0,214.5 155.0,216.6 C158.0,218.7 160.2,219.9 163.0,223.0 C165.8,226.1 169.0,231.2 172.0,235.0 C175.0,238.8 178.2,242.5 181.0,246.0 C183.8,249.5 186.7,252.7 189.0,256.0 C191.3,259.3 193.2,262.8 195.0,266.0 C196.8,269.2 200.8,271.8 200.0,275.0 C199.2,278.2 193.6,282.6 190.3,285.0 C187.0,287.4 183.4,288.0 180.0,289.4 C176.6,290.8 173.3,291.9 170.0,293.3 C166.7,294.7 163.3,296.1 160.0,298.0 C156.7,299.9 153.0,303.0 150.0,305.0 C147.0,307.0 144.5,308.2 142.0,310.0 C139.5,311.8 137.8,314.3 135.0,316.0 C132.2,317.7 128.3,319.4 125.0,320.0 C121.7,320.6 118.3,320.2 115.0,319.5 C111.7,318.8 108.3,317.6 105.0,316.0 C101.7,314.4 97.5,312.5 95.0,310.0 C92.5,307.5 91.0,304.7 90.0,301.0 C89.0,297.3 88.8,292.3 88.7,288.0 C88.7,283.7 89.5,278.8 89.7,275.0 C89.9,271.2 89.7,268.3 89.7,265.0 C89.8,261.7 89.7,258.3 90.0,255.0 C90.3,251.7 90.0,248.3 91.2,245.0 C92.5,241.7 95.2,238.3 97.5,235.0 C99.8,231.7 102.7,228.2 105.0,225.0 C107.3,221.8 109.1,218.3 111.6,216.0 C114.1,213.7 116.9,212.0 120.0,211.0 Z" fill="#b0adae" filter="url(#blur1)"/>
<g font-size="5.9" fill="#bab8b9" text-anchor="middle"><text x="131.6" y="208.3">Cd24a</text><text x="92.9" y="297.3">Nol10</text><text x="169.2" y="299.3">Hist1</text><text x="138.7" y="211.5">Hist1</text><text x="190.2" y="285.0">Tspo2</text><text x="157.4" y="299.0">Fech</text><text x="99.3" y="312.6">Xpo7</text><text x="149.0" y="303.1">Slc25a20</text><text x="151.0" y="218.2">Gypa</text><text x="195.9" y="257.2">Atp1b2</text><text x="144.6" y="314.3">Tspo2</text><text x="141.2" y="314.3">Sox6</text><text x="98.1" y="308.5">Sox6</text><text x="188.6" y="267.0">Ptprb1</text><text x="126.7" y="325.7">Fam46c</text><text x="197.5" y="272.0">Hba</text><text x="192.8" y="282.6">Tal1</text><text x="94.1" y="302.1">Ptpn14</text><text x="101.3" y="316.7">Urod</text><text x="147.5" y="307.9">Rhd</text><text x="143.9" y="309.7">Gypa</text><text x="146.3" y="214.8">Mllt3</text><text x="89.7" y="236.2">Ube2l6</text><text x="97.7" y="302.5">Slc4a1</text><text x="130.3" y="325.4">Slc25a20</text><text x="170.4" y="298.3">Zfp</text><text x="143.4" y="311.2">Kel</text><text x="203.2" y="271.6">Trim10</text><text x="96.1" y="266.9">Rpl13</text><text x="82.7" y="288.3">Add2</text><text x="159.8" y="295.9">Slc25a20</text><text x="90.7" y="275.4">C330</text><text x="81.1" y="284.5">Zfp</text><text x="173.2" y="226.7">Atp1b2</text><text x="159.4" y="302.2">Rhd</text><text x="165.7" y="301.8">Tmcc2</text><text x="143.0" y="209.7">Lmo2</text><text x="91.9" y="290.1">Runx1</text><text x="199.6" y="278.2">Xpo7</text><text x="122.8" y="326.6">Snca</text><text x="85.5" y="262.0">Sox6</text><text x="87.4" y="247.4">Ndufa</text><text x="170.6" y="219.6">Kel</text><text x="138.5" y="313.2">Wdr38</text><text x="96.4" y="282.3">Cd24a</text><text x="136.1" y="209.2">Snca</text><text x="113.9" y="218.6">Cd24a</text><text x="106.1" y="316.6">Zfp</text><text x="91.8" y="231.8">Tfrc</text><text x="153.8" y="218.3">Gypa</text><text x="132.2" y="211.6">Ptprb1</text><text x="155.2" y="300.0">Bpgm</text><text x="86.8" y="286.9">Cdk1</text><text x="189.6" y="245.1">Cpox</text><text x="87.4" y="239.3">Ccnb1</text><text x="96.0" y="307.5">Cdk1</text><text x="124.7" y="320.5">Eif4</text><text x="158.1" y="212.5">Rps6</text><text x="100.9" y="313.1">Epb4</text><text x="118.0" y="321.8">Tfrc</text><text x="180.1" y="242.5">Gypa</text><text x="194.2" y="254.7">Add2</text><text x="176.0" y="242.9">Ube2l6</text><text x="110.7" y="226.1">Ypel3</text><text x="189.6" y="243.3">Cdk1</text><text x="90.4" y="258.3">Alas2</text><text x="87.7" y="281.5">Tal1</text><text x="101.1" y="315.1">Ermap</text><text x="102.7" y="233.5">Rpl13</text><text x="93.0" y="302.3">Mki67</text><text x="93.2" y="305.3">Gfi1b</text><text x="82.4" y="264.2">Cpox</text><text x="191.6" y="270.3">Tubb5</text><text x="195.0" y="279.4">Spta1</text><text x="161.0" y="224.4">Mllt3</text><text x="116.9" y="320.0">Cdk1</text><text x="117.6" y="211.4">Ank1</text><text x="109.2" y="215.2">Tfrc</text><text x="114.0" y="318.6">Isg20</text><text x="92.3" y="253.3">Gypa</text><text x="163.5" y="298.9">Gfi1b</text><text x="198.6" y="257.1">Hmgb2</text><text x="105.0" y="315.8">Slc25a20</text><text x="105.0" y="233.8">Rpl13</text><text x="104.9" y="314.2">Tmcc2</text><text x="190.5" y="265.3">Mbp</text><text x="166.2" y="222.4">Tmod1</text><text x="165.0" y="229.8">Rhag</text><text x="174.9" y="247.3">Hmgb2</text><text x="143.7" y="311.1">Epb4</text><text x="177.1" y="289.6">Lrp4</text><text x="170.6" y="298.3">Zfp</text><text x="155.8" y="298.3">Ptprb1</text><text x="85.7" y="250.0">Snca</text><text x="182.5" y="240.9">Lrp4</text><text x="92.8" y="263.6">Gypa</text><text x="146.3" y="306.1">Slc4a1</text><text x="127.8" y="212.4">Ptpn14</text><text x="92.6" y="289.8">Runx1</text><text x="97.6" y="228.9">Sptb</text><text x="122.0" y="324.3">Snca</text><text x="177.5" y="289.3">Hmgb2</text><text x="185.5" y="259.3">Atp1b2</text><text x="95.3" y="256.0">Klf1</text><text x="153.0" y="302.8">Ptpn14</text><text x="164.8" y="217.4">Ptpn14</text><text x="106.6" y="318.0">Ermap</text><text x="176.7" y="294.4">Rpl13</text><text x="85.9" y="270.3">Sptb</text><text x="143.5" y="309.4">Klf1</text><text x="94.5" y="289.1">Bpgm</text><text x="98.9" y="311.4">Mbp</text><text x="133.0" y="211.6">Myb</text><text x="190.9" y="250.8">Tspo2</text><text x="136.7" y="208.1">Hba</text><text x="189.9" y="290.5">Zfp</text><text x="201.2" y="269.1">Ube2l6</text><text x="106.7" y="319.1">Fam46c</text><text x="149.0" y="309.3">Alas2</text><text x="148.6" y="305.3">Isg20</text><text x="95.1" y="302.7">Klf1</text><text x="193.9" y="268.2">Alas2</text><text x="87.9" y="285.9">Rps6</text><text x="102.3" y="224.4">Bcl2l1</text><text x="172.1" y="293.4">Tal1</text><text x="103.9" y="316.1">Add2</text><text x="153.7" y="307.2">Gypa</text><text x="95.7" y="305.7">Gypa</text><text x="192.0" y="261.0">Ppox</text><text x="176.0" y="290.7">Mllt3</text><text x="128.8" y="320.3">Mllt3</text><text x="145.5" y="307.8">Ptpn14</text><text x="197.7" y="260.9">Isg20</text><text x="125.9" y="325.9">Slc25a20</text><text x="186.5" y="257.4">Lmo2</text><text x="157.6" y="303.8">Nol10</text><text x="83.1" y="284.3">Lmo2</text><text x="93.9" y="306.9">Sox6</text><text x="114.4" y="211.8">Rpl13</text><text x="98.7" y="302.2">Slc25a20</text><text x="155.6" y="216.8">Epb4</text><text x="101.2" y="233.9">Add2</text><text x="89.1" y="257.0">Car2</text><text x="93.1" y="266.8">Ptprb1</text><text x="166.0" y="235.9">Bach1</text><text x="174.1" y="234.2">Ank1</text><text x="99.4" y="307.0">Ptprb1</text><text x="94.2" y="229.2">Ikzf1</text><text x="88.8" y="232.5">Cd24a</text><text x="151.6" y="305.5">Scd</text><text x="150.6" y="212.1">Runx1</text><text x="90.8" y="229.9">Car2</text><text x="151.9" y="305.6">Spta1</text><text x="152.9" y="304.6">Wdr38</text><text x="143.6" y="313.4">Rps6</text><text x="158.8" y="303.3">Fech</text><text x="110.8" y="212.1">Lrp4</text><text x="97.4" y="226.0">Bcl2l1</text><text x="92.3" y="296.4">Fam46c</text><text x="186.7" y="289.1">Lrp4</text><text x="198.9" y="261.2">Nol10</text><text x="101.3" y="237.3">Tspo2</text><text x="163.7" y="228.6">Atp1b2</text><text x="95.9" y="252.9">Mllt3</text><text x="192.1" y="270.9">Ypel3</text><text x="164.1" y="226.6">Isg20</text><text x="191.0" y="248.2">Nol10</text><text x="168.4" y="220.4">Spta1</text><text x="106.4" y="222.4">Spta1</text><text x="183.6" y="292.1">Spta1</text><text x="116.2" y="216.8">Fam46c</text><text x="152.6" y="304.5">Tfrc</text><text x="167.9" y="293.6">Tspo2</text><text x="120.3" y="323.4">Cpox</text><text x="176.3" y="290.4">Ikzf1</text><text x="162.1" y="231.1">2810021Rik</text><text x="95.0" y="307.1">Atp1b2</text><text x="157.6" y="211.8">Trim10</text><text x="162.4" y="303.8">Tmod1</text><text x="95.4" y="304.8">Ptpn14</text><text x="168.9" y="297.5">Hmgb2</text><text x="93.3" y="231.7">Tal1</text><text x="195.2" y="265.7">Lrp4</text><text x="117.8" y="208.8">Ccnb1</text><text x="96.0" y="256.5">2810021Rik</text><text x="99.9" y="235.4">Fech</text><text x="100.9" y="224.2">Gfi1b</text><text x="87.1" y="260.1">Tmcc2</text><text x="89.3" y="241.8">Car2</text><text x="161.1" y="213.0">Sox6</text><text x="85.8" y="238.2">Rpl13</text><text x="144.2" y="313.4">Car2</text><text x="94.2" y="269.7">Nol10</text><text x="101.3" y="313.9">Cdk1</text><text x="182.4" y="263.6">Slc25a20</text><text x="182.0" y="236.1">Urod</text><text x="172.4" y="235.1">Nol10</text><text x="190.4" y="283.7">Bach1</text><text x="152.7" y="215.2">Isg20</text><text x="181.8" y="247.7">Rpl13</text><text x="142.6" y="311.6">Cd24a</text><text x="182.9" y="250.8">Isg20</text><text x="127.6" y="213.4">Top2a</text><text x="138.6" y="210.4">Lrp4</text><text x="189.1" y="281.9">Tubb5</text><text x="110.9" y="218.7">Cpox</text><text x="157.9" y="298.8">Cpox</text><text x="178.8" y="250.4">Tubb5</text><text x="172.9" y="239.3">Rpl13</text><text x="145.3" y="307.3">Isg20</text><text x="88.4" y="255.8">Cdk1</text><text x="132.8" y="209.7">Eif4</text><text x="107.8" y="218.6">Hba</text><text x="91.3" y="298.9">Add2</text><text x="144.2" y="209.2">Ndufa</text><text x="122.9" y="326.4">Bach1</text><text x="135.7" y="210.9">Car2</text><text x="160.8" y="299.2">Cd36</text><text x="89.5" y="249.9">Cd36</text><text x="165.9" y="293.1">Ptpn14</text><text x="149.2" y="304.1">Tmcc2</text><text x="97.0" y="258.4">Ypel3</text><text x="95.7" y="301.8">Mllt3</text><text x="163.7" y="221.5">Hba</text><text x="97.1" y="287.2">Trim10</text><text x="135.2" y="320.9">Tspo2</text><text x="97.4" y="241.3">Ube2l6</text><text x="99.4" y="233.6">Rhag</text><text x="194.4" y="284.2">Isg20</text><text x="111.5" y="214.7">Atp1b2</text><text x="108.6" y="318.9">Rps6</text><text x="167.4" y="228.0">Tal1</text><text x="190.3" y="247.8">Hba</text><text x="141.7" y="212.4">Atp1b2</text><text x="94.7" y="284.1">Cpox</text><text x="144.0" y="308.3">Ndufa</text><text x="90.1" y="236.3">Klf1</text><text x="157.9" y="215.8">Wdr38</text><text x="95.0" y="310.7">Scd</text><text x="199.8" y="254.2">Rhag</text><text x="96.3" y="269.9">Eif4</text><text x="182.4" y="232.4">Rhd</text><text x="162.2" y="223.0">Scd</text><text x="88.1" y="239.9">Lmo2</text><text x="149.6" y="310.3">Bcl2l1</text><text x="170.3" y="292.3">Tal1</text><text x="147.3" y="214.4">Ypel3</text><text x="183.5" y="240.0">Snca</text><text x="123.5" y="323.5">Eif4</text><text x="189.5" y="255.7">Slc25a20</text><text x="113.8" y="318.7">Ptpn14</text><text x="103.7" y="313.4">Ikzf1</text><text x="92.2" y="240.3">Cdk1</text><text x="110.8" y="321.1">Rhd</text><text x="160.8" y="303.1">Hba</text><text x="177.2" y="236.2">Spta1</text><text x="148.3" y="209.5">2810021Rik</text><text x="116.2" y="320.3">Hmgb2</text><text x="197.3" y="254.0">Mbp</text><text x="162.0" y="225.0">Mbp</text><text x="89.3" y="295.5">C330</text><text x="181.1" y="242.0">Alas2</text><text x="123.9" y="211.0">Wdr38</text><text x="161.5" y="220.9">Epb4</text><text x="136.0" y="210.4">Top2a</text><text x="141.8" y="316.2">Ndufa</text><text x="92.4" y="292.3">Fam46c</text><text x="164.5" y="231.6">Ube2l6</text><text x="197.3" y="262.1">Ube2l6</text><text x="193.2" y="256.5">Rpl13</text><text x="150.4" y="209.6">Rps6</text><text x="96.2" y="304.0">Fech</text><text x="149.8" y="213.2">Hist1</text><text x="82.3" y="254.1">Kel</text><text x="186.4" y="266.0">Ndufa</text><text x="137.8" y="318.9">Ermap</text><text x="106.3" y="225.8">Ube2l6</text><text x="179.4" y="250.6">Bach1</text><text x="131.6" y="323.5">Zfp</text><text x="81.9" y="276.8">Cd24a</text><text x="91.6" y="287.9">Ndufa</text><text x="205.5" y="256.7">Cdk1</text><text x="170.1" y="222.2">Ermap</text><text x="90.5" y="259.6">Dmtn</text><text x="117.4" y="321.5">Myb</text><text x="90.2" y="292.6">Xpo7</text><text x="102.2" y="227.8">Tubb5</text><text x="112.1" y="223.0">Top2a</text><text x="81.9" y="275.1">Dmtn</text><text x="83.7" y="276.7">Rpl13</text><text x="191.8" y="265.3">Kel</text><text x="178.4" y="246.9">Gfi1b</text><text x="171.1" y="298.3">Scd</text><text x="154.4" y="218.3">Nfe2</text><text x="171.4" y="243.6">Slc25a20</text><text x="95.9" y="260.6">Cpox</text><text x="88.7" y="299.8">Myb</text><text x="87.9" y="285.7">Ube2l6</text><text x="203.9" y="273.1">Sox6</text><text x="144.9" y="213.4">Tubb5</text><text x="187.0" y="263.9">Lrp4</text><text x="194.4" y="255.5">Ypel3</text><text x="178.8" y="240.6">Cpox</text><text x="149.1" y="216.4">Sox6</text><text x="89.0" y="271.7">Ube2l6</text><text x="128.1" y="322.4">Kel</text><text x="118.9" y="322.6">Sptb</text><text x="108.9" y="223.9">Alas2</text><text x="88.5" y="256.3">Tal1</text><text x="110.2" y="321.8">Gypa</text><text x="88.3" y="258.5">Spta1</text><text x="190.8" y="264.3">Gypa</text><text x="94.2" y="233.8">Cd24a</text><text x="87.2" y="257.8">Scd</text><text x="115.6" y="208.0">Rps6</text><text x="157.0" y="305.3">Tspo2</text><text x="155.2" y="218.8">Rpl13</text><text x="92.9" y="287.1">Tspo2</text><text x="179.4" y="287.5">Fam46c</text><text x="135.8" y="204.2">Epb4</text><text x="202.0" y="266.8">Epb4</text><text x="146.8" y="306.8">Ank1</text><text x="162.1" y="302.4">Hmgb2</text><text x="85.1" y="290.6">Nol10</text><text x="187.7" y="242.2">Ndufa</text><text x="141.6" y="209.9">Gfi1b</text><text x="111.4" y="216.9">Cpox</text><text x="101.3" y="221.0">Ppox</text><text x="148.5" y="307.5">Tspo2</text><text x="155.0" y="299.9">Gfi1b</text><text x="113.4" y="214.2">Trim10</text><text x="115.1" y="210.1">Bcl2l1</text><text x="80.5" y="249.5">Ccnb1</text><text x="165.7" y="236.3">Atp1b2</text><text x="114.3" y="218.6">Rhd</text><text x="104.6" y="231.4">Tfrc</text><text x="178.4" y="228.0">Mbp</text><text x="96.1" y="288.9">Cd24a</text><text x="75.8" y="270.2">Myb</text><text x="89.2" y="246.5">Bach1</text><text x="92.1" y="231.7">Hist1</text><text x="98.5" y="262.2">2810021Rik</text><text x="176.9" y="291.4">Trim10</text><text x="183.0" y="248.2">Atp1b2</text><text x="118.4" y="210.3">Ppox</text><text x="153.1" y="211.1">Cpox</text><text x="158.7" y="212.7">Tfrc</text><text x="81.4" y="247.6">Ube2l6</text><text x="163.2" y="296.5">Xpo7</text><text x="110.4" y="224.7">Isg20</text><text x="83.6" y="272.1">Sptb</text><text x="146.8" y="307.4">Ndufa</text><text x="188.1" y="284.6">Bcl2l1</text><text x="169.8" y="293.7">Lrp4</text><text x="195.8" y="271.6">Snca</text><text x="173.8" y="295.7">Hba</text><text x="100.9" y="314.9">Ermap</text><text x="91.6" y="276.5">Rps6</text><text x="99.9" y="230.3">Car2</text><text x="140.4" y="312.3">Ptprb1</text><text x="90.4" y="279.9">Mllt3</text><text x="163.8" y="216.5">Ppox</text><text x="94.9" y="273.6">2810021Rik</text><text x="98.2" y="270.6">Fam46c</text><text x="185.7" y="241.3">Add2</text><text x="84.2" y="246.0">Atp1b2</text><text x="123.5" y="213.5">Ypel3</text><text x="123.3" y="209.1">Ank1</text><text x="187.1" y="243.0">C330</text><text x="91.2" y="265.2">Cd24a</text><text x="174.9" y="237.8">Rhd</text><text x="171.4" y="292.6">Cdk1</text><text x="96.7" y="269.0">Hmgb2</text><text x="106.6" y="229.9">Bpgm</text><text x="175.9" y="248.5">Ptpn14</text><text x="188.4" y="285.3">2810021Rik</text><text x="139.0" y="318.0">Ccnb1</text><text x="187.7" y="247.0">Ank1</text><text x="205.8" y="273.5">Cdk1</text><text x="201.8" y="257.7">Ermap</text><text x="183.5" y="287.2">Ppox</text><text x="164.3" y="294.1">Ptpn14</text><text x="121.7" y="322.4">Bach1</text><text x="109.7" y="318.1">Kel</text><text x="107.5" y="228.8">Ptprb1</text><text x="175.1" y="296.1">Tmod1</text><text x="177.3" y="249.3">Epb4</text><text x="81.8" y="243.8">Bpgm</text><text x="98.1" y="249.8">Mllt3</text><text x="91.0" y="299.1">Klf1</text><text x="113.1" y="319.5">Fam46c</text><text x="97.3" y="307.9">Bpgm</text><text x="119.5" y="211.9">Cd36</text><text x="89.1" y="251.1">Ypel3</text><text x="198.9" y="279.3">Epb4</text><text x="111.9" y="212.5">Tspo2</text><text x="147.9" y="208.6">Sptb</text><text x="127.5" y="208.2">Car2</text><text x="94.9" y="301.8">C330</text><text x="163.0" y="298.2">Sptb</text></g>
<text x="101.90" y="208.40" font-size="6.2" fill="#454344" textLength="17.7" lengthAdjust="spacingAndGlyphs">Hemgn</text>
<rect x="109.80" y="210.40" width="1.3" height="1.3" fill="#111"/>
<text x="102.70" y="215.60" font-size="6.2" fill="#454344" textLength="12.3" lengthAdjust="spacingAndGlyphs">Hmbs</text>
<rect x="108.20" y="217.90" width="1.3" height="1.3" fill="#111"/>
<text x="123.50" y="204.80" font-size="6.2" fill="#454344" textLength="13.5" lengthAdjust="spacingAndGlyphs">Slc4a1</text>
<rect x="131.30" y="206.90" width="1.3" height="1.3" fill="#111"/>
<text x="134.50" y="204.40" font-size="6.2" fill="#454344" textLength="12.0" lengthAdjust="spacingAndGlyphs">Nfe2</text>
<rect x="140.60" y="205.90" width="1.3" height="1.3" fill="#111"/>
<text x="154.20" y="219.10" font-size="6.2" fill="#454344" textLength="19.3" lengthAdjust="spacingAndGlyphs">Hbb-bh1</text>
<rect x="163.60" y="220.90" width="1.3" height="1.3" fill="#111"/>
<text x="98.90" y="226.20" font-size="6.2" fill="#454344" textLength="10.0" lengthAdjust="spacingAndGlyphs">Alad</text>
<text x="90.80" y="233.40" font-size="6.2" fill="#454344" textLength="12.5" lengthAdjust="spacingAndGlyphs">Gata1</text>
<rect x="96.90" y="235.40" width="1.3" height="1.3" fill="#111"/>
<text x="72.30" y="280.70" font-size="6.2" fill="#454344" textLength="16.2" lengthAdjust="spacingAndGlyphs">Eef1a1</text>
<rect x="79.80" y="282.60" width="1.3" height="1.3" fill="#111"/>
<text x="92.40" y="316.80" font-size="6.2" fill="#454344" textLength="12.3" lengthAdjust="spacingAndGlyphs">Ppia</text>
<rect x="97.30" y="318.80" width="1.3" height="1.3" fill="#111"/>
<text x="176.40" y="310.20" font-size="6.2" fill="#454344" textLength="12.5" lengthAdjust="spacingAndGlyphs">Lars2</text>
<rect x="181.40" y="312.00" width="1.3" height="1.3" fill="#111"/>
<text x="204.60" y="284.50" font-size="6.2" fill="#454344" textLength="12.4" lengthAdjust="spacingAndGlyphs">Gpc6</text>
<rect x="202.90" y="284.90" width="1.3" height="1.3" fill="#111"/>
<line x1="146.70" y1="275.80" x2="128.34" y2="226.23" stroke="#d03a3a" stroke-width="0.9" />
<polygon points="127.40,223.70 129.73,226.25 127.29,227.15" fill="#d03a3a"/>
<line x1="146.70" y1="275.80" x2="113.21" y2="234.89" stroke="#d03a3a" stroke-width="0.9" />
<polygon points="111.50,232.80 114.53,234.45 112.52,236.10" fill="#d03a3a"/>
<line x1="146.70" y1="275.80" x2="108.58" y2="264.00" stroke="#d03a3a" stroke-width="0.9" />
<polygon points="106.00,263.20 109.44,262.90 108.67,265.39" fill="#d03a3a"/>
<line x1="146.70" y1="275.80" x2="158.14" y2="302.62" stroke="#d03a3a" stroke-width="0.9" />
<polygon points="159.20,305.10 156.75,302.67 159.14,301.65" fill="#d03a3a"/>
<line x1="146.70" y1="275.80" x2="159.12" y2="269.08" stroke="#3b68b4" stroke-width="0.9" />
<polygon points="161.50,267.80 159.30,270.47 158.07,268.18" fill="#3b68b4"/>
<line x1="146.70" y1="275.80" x2="164.32" y2="277.88" stroke="#3b68b4" stroke-width="0.9" />
<polygon points="167.00,278.20 163.67,279.12 163.97,276.53" fill="#3b68b4"/>
<line x1="146.70" y1="275.80" x2="204.66" y2="287.85" stroke="#3b68b4" stroke-width="0.9" />
<polygon points="207.30,288.40 203.90,289.02 204.43,286.48" fill="#3b68b4"/>
<line x1="146.70" y1="275.80" x2="152.35" y2="309.24" stroke="#3b68b4" stroke-width="0.9" />
<polygon points="152.80,311.90 150.99,308.96 153.55,308.53" fill="#3b68b4"/>
<line x1="146.70" y1="275.80" x2="154.16" y2="306.58" stroke="#3b68b4" stroke-width="0.9" />
<polygon points="154.80,309.20 152.78,306.40 155.31,305.78" fill="#3b68b4"/>
<text x="122.80" y="221.80" font-size="6.4" fill="#d03a3a" stroke="#d03a3a" stroke-width="0.25" textLength="10.0" lengthAdjust="spacingAndGlyphs">WD</text>
<text x="107.30" y="230.90" font-size="6.4" fill="#d03a3a" stroke="#d03a3a" stroke-width="0.25" textLength="9.7" lengthAdjust="spacingAndGlyphs">WC</text>
<text x="94.00" y="266.10" font-size="6.4" fill="#d03a3a" stroke="#d03a3a" stroke-width="0.25" textLength="9.1" lengthAdjust="spacingAndGlyphs">WB</text>
<text x="159.10" y="311.50" font-size="6.4" fill="#d03a3a" stroke="#d03a3a" stroke-width="0.25" textLength="8.6" lengthAdjust="spacingAndGlyphs">WA</text>
<text x="163.70" y="270.10" font-size="6.4" fill="#3b68b4" stroke="#3b68b4" stroke-width="0.25" textLength="9.1" lengthAdjust="spacingAndGlyphs">DD</text>
<text x="170.00" y="280.50" font-size="6.4" fill="#3b68b4" stroke="#3b68b4" stroke-width="0.25" textLength="8.3" lengthAdjust="spacingAndGlyphs">DC</text>
<text x="210.50" y="291.20" font-size="6.4" fill="#3b68b4" stroke="#3b68b4" stroke-width="0.25" textLength="11.5" lengthAdjust="spacingAndGlyphs">DAd</text>
<text x="155.90" y="316.60" font-size="6.4" fill="#3b68b4" stroke="#3b68b4" stroke-width="0.25" textLength="7.8" lengthAdjust="spacingAndGlyphs">DB</text>
<text x="149.10" y="320.90" font-size="6.4" fill="#3b68b4" stroke="#3b68b4" stroke-width="0.25" textLength="8.2" lengthAdjust="spacingAndGlyphs">DA</text>
<rect x="55.50" y="186.90" width="180.50" height="160.70" fill="none" stroke="#231f20" stroke-width="1.2"/>
<line x1="70.10" y1="347.60" x2="70.10" y2="351.00" stroke="#231f20" stroke-width="0.9" />
<text x="70.10" y="361.30" font-size="8.0" text-anchor="middle" fill="#231f20" stroke="#231f20" stroke-width="0.12" >-10</text>
<line x1="108.40" y1="347.60" x2="108.40" y2="351.00" stroke="#231f20" stroke-width="0.9" />
<text x="108.40" y="361.30" font-size="8.0" text-anchor="middle" fill="#231f20" stroke="#231f20" stroke-width="0.12" >-5</text>
<line x1="146.70" y1="347.60" x2="146.70" y2="351.00" stroke="#231f20" stroke-width="0.9" />
<text x="146.70" y="361.30" font-size="8.0" text-anchor="middle" fill="#231f20" stroke="#231f20" stroke-width="0.12" >0</text>
<line x1="185.00" y1="347.60" x2="185.00" y2="351.00" stroke="#231f20" stroke-width="0.9" />
<text x="185.00" y="361.30" font-size="8.0" text-anchor="middle" fill="#231f20" stroke="#231f20" stroke-width="0.12" >5</text>
<line x1="223.30" y1="347.60" x2="223.30" y2="351.00" stroke="#231f20" stroke-width="0.9" />
<text x="223.30" y="361.30" font-size="8.0" text-anchor="middle" fill="#231f20" stroke="#231f20" stroke-width="0.12" >10</text>
<line x1="52.50" y1="199.20" x2="55.50" y2="199.20" stroke="#231f20" stroke-width="0.9" />
<text x="50.60" y="202.00" font-size="8.0" text-anchor="end" fill="#231f20" stroke="#231f20" stroke-width="0.12" >10</text>
<line x1="52.50" y1="237.50" x2="55.50" y2="237.50" stroke="#231f20" stroke-width="0.9" />
<text x="50.60" y="240.30" font-size="8.0" text-anchor="end" fill="#231f20" stroke="#231f20" stroke-width="0.12" >5</text>
<line x1="52.50" y1="275.80" x2="55.50" y2="275.80" stroke="#231f20" stroke-width="0.9" />
<text x="50.60" y="278.60" font-size="8.0" text-anchor="end" fill="#231f20" stroke="#231f20" stroke-width="0.12" >0</text>
<line x1="52.50" y1="314.10" x2="55.50" y2="314.10" stroke="#231f20" stroke-width="0.9" />
<text x="50.60" y="316.90" font-size="8.0" text-anchor="end" fill="#231f20" stroke="#231f20" stroke-width="0.12" >-5</text>
<text x="63.80" y="181.40" font-size="9.9" text-anchor="start" fill="#231f20" stroke="#231f20" stroke-width="0.12" textLength="164.0" lengthAdjust="spacingAndGlyphs" >Map of 11217 Genes as Individuals (PCA)</text>
<text x="117.70" y="374.70" font-size="10.0" text-anchor="start" fill="#231f20" stroke="#231f20" stroke-width="0.12" textLength="56.10000000000001" lengthAdjust="spacingAndGlyphs" >Dim 1 (5.76%)</text>
<text transform="translate(34.90,267.00) rotate(-90)" font-size="10.0" text-anchor="middle" fill="#231f20" stroke="#231f20" stroke-width="0.12" textLength="56.5" lengthAdjust="spacingAndGlyphs">Dim 2 (3.92%)</text>
<text x="6.80" y="170.00" font-size="11.0" text-anchor="start" fill="#231f20" stroke="#231f20" stroke-width="0.12" >B</text>
<line x1="315.80" y1="278.50" x2="496.50" y2="278.50" stroke="#555" stroke-width="0.8" stroke-dasharray="1,1.1"/>
<line x1="402.80" y1="186.10" x2="402.80" y2="347.80" stroke="#555" stroke-width="0.8" stroke-dasharray="1,1.1"/>
<path d="M380.0,206.0 C382.7,205.0 386.7,205.3 390.0,204.8 C393.3,204.3 396.7,203.3 400.0,202.8 C403.3,202.3 406.7,201.7 410.0,202.0 C413.3,202.3 416.7,203.2 420.0,204.8 C423.3,206.4 425.4,208.1 430.0,211.5 C434.6,214.9 442.3,221.1 447.3,225.0 C452.3,228.9 458.1,231.7 460.0,235.0 C461.9,238.3 458.2,241.7 459.0,245.0 C459.8,248.3 464.0,251.7 464.7,255.0 C465.4,258.3 463.8,261.7 463.0,265.0 C462.2,268.3 458.3,271.7 460.0,275.0 C461.7,278.3 471.0,282.0 473.0,285.0 C475.0,288.0 472.5,290.3 472.0,293.0 C471.5,295.7 472.0,298.0 470.0,301.0 C468.0,304.0 463.3,308.5 460.0,311.2 C456.7,314.0 453.3,316.1 450.0,317.5 C446.7,318.9 443.3,319.3 440.0,319.8 C436.7,320.3 433.3,320.4 430.0,320.6 C426.7,320.8 423.3,320.2 420.0,321.0 C416.7,321.8 412.8,324.1 410.0,325.3 C407.2,326.5 405.5,328.2 403.0,328.0 C400.5,327.8 398.0,325.6 395.0,324.0 C392.0,322.4 388.3,320.3 385.0,318.6 C381.7,316.9 378.3,314.6 375.0,314.0 C371.7,313.4 368.3,315.5 365.0,314.7 C361.7,313.9 357.8,309.9 355.0,309.0 C352.2,308.1 350.3,310.5 348.4,309.0 C346.5,307.5 346.0,303.2 343.8,300.0 C341.5,296.8 335.7,293.3 335.0,290.0 C334.3,286.7 339.2,283.3 339.8,280.0 C340.4,276.7 338.6,273.3 338.3,270.0 C338.1,266.7 337.4,262.5 338.3,260.0 C339.2,257.5 342.3,256.7 344.0,255.0 C345.7,253.3 347.2,252.5 348.8,250.0 C350.3,247.5 351.3,243.3 353.4,240.0 C355.5,236.7 359.1,233.3 361.2,230.0 C363.4,226.7 363.9,223.2 366.0,220.0 C368.1,216.8 371.7,213.3 374.0,211.0 C376.3,208.7 377.3,207.0 380.0,206.0 Z" fill="#f6f5f6" filter="url(#blur2)"/>
<path d="M385.0,222.0 C386.5,221.3 387.5,221.2 390.0,221.0 C392.5,220.8 396.7,220.5 400.0,220.5 C403.3,220.5 406.7,220.8 410.0,221.0 C413.3,221.2 417.0,221.4 420.0,222.0 C423.0,222.6 425.6,222.3 428.0,224.5 C430.4,226.7 432.6,231.6 434.6,235.0 C436.6,238.4 438.5,241.7 440.0,245.0 C441.5,248.3 442.8,251.7 443.7,255.0 C444.6,258.3 445.2,261.7 445.5,265.0 C445.8,268.3 445.2,271.7 445.5,275.0 C445.8,278.3 447.7,282.0 447.3,285.0 C446.9,288.0 444.4,290.5 443.0,293.0 C441.6,295.5 441.2,297.7 439.0,300.0 C436.8,302.3 433.2,304.7 430.0,306.6 C426.8,308.5 423.3,309.4 420.0,311.2 C416.7,313.1 412.8,316.0 410.0,317.5 C407.2,319.0 405.5,320.3 403.0,320.0 C400.5,319.7 398.0,317.3 395.0,315.5 C392.0,313.7 388.3,310.9 385.0,309.2 C381.7,307.5 378.3,305.8 375.0,305.3 C371.7,304.8 368.3,306.3 365.0,306.0 C361.7,305.7 357.4,304.8 355.0,303.8 C352.6,302.8 352.2,302.3 350.8,300.0 C349.4,297.7 347.8,293.3 346.9,290.0 C346.0,286.7 345.6,283.3 345.3,280.0 C345.0,276.7 344.8,273.3 345.3,270.0 C345.8,266.7 346.9,262.8 348.4,260.0 C349.8,257.2 351.9,255.2 354.0,253.0 C356.1,250.8 358.5,249.5 361.2,247.0 C364.0,244.5 368.0,240.8 370.6,238.0 C373.2,235.2 375.2,232.2 376.9,230.0 C378.6,227.8 379.6,226.3 381.0,225.0 C382.4,223.7 383.5,222.7 385.0,222.0 Z" fill="#b0adae" filter="url(#blur1)"/>
<g font-size="5.9" fill="#bab8b9" text-anchor="middle"><text x="393.0" y="215.3">Cd24a</text><text x="353.6" y="299.1">Nol10</text><text x="447.4" y="314.4">Hist1</text><text x="399.3" y="220.1">Hist1</text><text x="452.6" y="287.1">Tspo2</text><text x="425.8" y="309.6">Fech</text><text x="364.9" y="309.2">Xpo7</text><text x="414.2" y="312.5">Slc25a20</text><text x="410.6" y="223.9">Gypa</text><text x="449.5" y="260.2">Atp1b2</text><text x="407.8" y="325.6">Tspo2</text><text x="403.4" y="324.5">Sox6</text><text x="363.4" y="306.0">Sox6</text><text x="440.1" y="269.0">Ptprb1</text><text x="389.1" y="319.5">Fam46c</text><text x="445.9" y="273.1">Hba</text><text x="450.0" y="283.4">Tal1</text><text x="355.0" y="303.8">Ptpn14</text><text x="365.7" y="314.1">Urod</text><text x="411.5" y="318.9">Rhd</text><text x="406.9" y="320.0">Gypa</text><text x="405.9" y="223.0">Mllt3</text><text x="362.2" y="245.0">Ube2l6</text><text x="360.3" y="302.9">Slc4a1</text><text x="391.9" y="321.5">Slc25a20</text><text x="446.9" y="312.0">Zfp</text><text x="406.1" y="321.5">Kel</text><text x="452.4" y="272.8">Trim10</text><text x="353.5" y="268.4">Rpl13</text><text x="341.6" y="290.6">Add2</text><text x="429.5" y="304.7">Slc25a20</text><text x="349.8" y="277.3">C330</text><text x="343.1" y="285.9">Zfp</text><text x="436.4" y="226.2">Atp1b2</text><text x="429.7" y="315.8">Rhd</text><text x="442.2" y="318.1">Tmcc2</text><text x="403.8" y="212.3">Lmo2</text><text x="350.5" y="292.7">Runx1</text><text x="448.8" y="278.3">Xpo7</text><text x="386.0" y="319.1">Snca</text><text x="348.4" y="263.9">Sox6</text><text x="358.5" y="253.1">Ndufa</text><text x="433.1" y="219.3">Kel</text><text x="399.8" y="319.2">Wdr38</text><text x="353.3" y="285.1">Cd24a</text><text x="397.0" y="216.3">Snca</text><text x="379.8" y="230.2">Cd24a</text><text x="373.6" y="308.5">Zfp</text><text x="362.3" y="240.8">Tfrc</text><text x="414.2" y="221.4">Gypa</text><text x="393.7" y="221.2">Ptprb1</text><text x="422.6" y="310.4">Bpgm</text><text x="345.2" y="289.3">Cdk1</text><text x="450.7" y="246.6">Cpox</text><text x="360.3" y="247.5">Ccnb1</text><text x="359.2" y="307.2">Cdk1</text><text x="388.3" y="311.2">Eif4</text><text x="419.9" y="212.3">Rps6</text><text x="367.3" y="308.5">Epb4</text><text x="383.5" y="311.3">Tfrc</text><text x="443.9" y="242.6">Gypa</text><text x="450.0" y="257.5">Add2</text><text x="439.1" y="243.4">Ube2l6</text><text x="377.8" y="237.0">Ypel3</text><text x="452.8" y="244.0">Cdk1</text><text x="353.4" y="260.4">Alas2</text><text x="348.2" y="283.2">Tal1</text><text x="365.9" y="312.2">Ermap</text><text x="371.0" y="242.0">Rpl13</text><text x="353.9" y="304.0">Mki67</text><text x="353.8" y="307.3">Gfi1b</text><text x="346.9" y="266.1">Cpox</text><text x="441.0" y="271.7">Tubb5</text><text x="446.1" y="279.5">Spta1</text><text x="423.0" y="224.3">Mllt3</text><text x="383.2" y="308.7">Cdk1</text><text x="380.9" y="219.8">Ank1</text><text x="373.3" y="222.7">Tfrc</text><text x="381.4" y="307.2">Isg20</text><text x="357.4" y="256.3">Gypa</text><text x="436.2" y="311.4">Gfi1b</text><text x="452.1" y="260.0">Hmgb2</text><text x="370.2" y="312.2">Slc25a20</text><text x="373.1" y="242.5">Rpl13</text><text x="372.6" y="307.2">Tmcc2</text><text x="442.5" y="267.5">Mbp</text><text x="428.7" y="221.9">Tmod1</text><text x="427.8" y="229.3">Rhag</text><text x="435.8" y="249.0">Hmgb2</text><text x="406.6" y="321.5">Epb4</text><text x="439.3" y="291.8">Lrp4</text><text x="447.5" y="312.2">Zfp</text><text x="423.7" y="308.0">Ptprb1</text><text x="355.7" y="254.7">Snca</text><text x="447.4" y="240.4">Lrp4</text><text x="352.1" y="265.0">Gypa</text><text x="410.4" y="316.5">Slc4a1</text><text x="390.2" y="222.7">Ptpn14</text><text x="351.1" y="292.4">Runx1</text><text x="366.3" y="237.9">Sptb</text><text x="385.8" y="315.6">Snca</text><text x="439.8" y="291.5">Hmgb2</text><text x="439.7" y="262.1">Atp1b2</text><text x="357.4" y="258.0">Klf1</text><text x="420.4" y="314.4">Ptpn14</text><text x="426.8" y="217.5">Ptpn14</text><text x="372.4" y="312.4">Ermap</text><text x="453.6" y="304.7">Rpl13</text><text x="348.1" y="271.9">Sptb</text><text x="406.4" y="319.4">Klf1</text><text x="352.9" y="291.9">Bpgm</text><text x="365.3" y="307.2">Mbp</text><text x="394.4" y="221.2">Myb</text><text x="448.5" y="253.4">Tspo2</text><text x="397.6" y="213.6">Hba</text><text x="465.6" y="297.7">Zfp</text><text x="452.6" y="270.8">Ube2l6</text><text x="371.3" y="315.4">Fam46c</text><text x="413.9" y="321.1">Alas2</text><text x="413.3" y="315.5">Isg20</text><text x="357.4" y="303.3">Klf1</text><text x="445.3" y="269.9">Alas2</text><text x="346.4" y="288.4">Rps6</text><text x="370.0" y="233.9">Bcl2l1</text><text x="441.9" y="300.4">Tal1</text><text x="370.1" y="310.8">Add2</text><text x="420.9" y="320.4">Gypa</text><text x="358.3" y="306.1">Gypa</text><text x="445.2" y="263.7">Ppox</text><text x="441.9" y="294.7">Mllt3</text><text x="391.0" y="314.1">Mllt3</text><text x="409.3" y="318.4">Ptpn14</text><text x="450.5" y="263.5">Isg20</text><text x="388.7" y="319.0">Slc25a20</text><text x="442.0" y="260.1">Lmo2</text><text x="428.3" y="318.5">Nol10</text><text x="344.8" y="285.8">Lmo2</text><text x="354.8" y="308.6">Sox6</text><text x="378.0" y="219.6">Rpl13</text><text x="360.6" y="303.2">Slc25a20</text><text x="416.5" y="218.6">Epb4</text><text x="369.5" y="242.2">Add2</text><text x="353.1" y="259.4">Car2</text><text x="353.0" y="268.4">Ptprb1</text><text x="428.8" y="235.8">Bach1</text><text x="437.5" y="233.9">Ank1</text><text x="363.9" y="305.5">Ptprb1</text><text x="363.8" y="238.3">Ikzf1</text><text x="360.8" y="241.9">Cd24a</text><text x="416.9" y="316.2">Scd</text><text x="411.9" y="212.5">Runx1</text><text x="361.3" y="239.2">Car2</text><text x="418.1" y="317.2">Spta1</text><text x="419.7" y="316.4">Wdr38</text><text x="406.5" y="324.2">Rps6</text><text x="429.5" y="317.7">Fech</text><text x="374.2" y="218.8">Lrp4</text><text x="366.2" y="235.3">Bcl2l1</text><text x="352.6" y="298.4">Fam46c</text><text x="455.8" y="293.7">Lrp4</text><text x="451.7" y="263.8">Nol10</text><text x="369.5" y="244.8">Tspo2</text><text x="426.4" y="228.1">Atp1b2</text><text x="360.3" y="255.7">Mllt3</text><text x="441.1" y="272.2">Ypel3</text><text x="426.8" y="226.1">Isg20</text><text x="449.6" y="250.7">Nol10</text><text x="430.8" y="220.1">Spta1</text><text x="372.4" y="231.2">Spta1</text><text x="460.7" y="300.6">Spta1</text><text x="381.4" y="228.3">Fam46c</text><text x="418.7" y="315.4">Tfrc</text><text x="436.3" y="300.1">Tspo2</text><text x="384.8" y="313.9">Cpox</text><text x="441.3" y="293.9">Ikzf1</text><text x="424.9" y="230.7">2810021Rik</text><text x="355.4" y="309.3">Atp1b2</text><text x="419.6" y="211.3">Trim10</text><text x="436.7" y="320.2">Tmod1</text><text x="356.6" y="306.3">Ptpn14</text><text x="445.3" y="310.6">Hmgb2</text><text x="363.2" y="240.6">Tal1</text><text x="447.5" y="267.8">Lrp4</text><text x="380.3" y="215.2">Ccnb1</text><text x="360.7" y="259.1">2810021Rik</text><text x="368.3" y="243.3">Fech</text><text x="368.7" y="233.6">Gfi1b</text><text x="350.3" y="262.1">Tmcc2</text><text x="360.6" y="249.0">Car2</text><text x="422.6" y="213.4">Sox6</text><text x="359.5" y="246.9">Rpl13</text><text x="407.2" y="324.4">Car2</text><text x="352.2" y="271.3">Nol10</text><text x="367.5" y="309.3">Cdk1</text><text x="435.0" y="266.0">Slc25a20</text><text x="447.2" y="235.0">Urod</text><text x="435.6" y="234.9">Nol10</text><text x="449.2" y="284.8">Bach1</text><text x="413.6" y="217.1">Isg20</text><text x="442.1" y="249.6">Rpl13</text><text x="405.3" y="321.9">Cd24a</text><text x="441.2" y="253.3">Isg20</text><text x="390.1" y="224.5">Top2a</text><text x="399.3" y="217.7">Lrp4</text><text x="442.2" y="281.9">Tubb5</text><text x="376.4" y="228.7">Cpox</text><text x="426.3" y="309.1">Cpox</text><text x="437.7" y="252.9">Tubb5</text><text x="435.7" y="239.7">Rpl13</text><text x="408.9" y="317.6">Isg20</text><text x="353.5" y="258.5">Cdk1</text><text x="394.1" y="217.8">Eif4</text><text x="372.8" y="227.0">Hba</text><text x="352.1" y="300.6">Add2</text><text x="405.4" y="209.2">Ndufa</text><text x="386.2" y="318.8">Bach1</text><text x="396.7" y="219.6">Car2</text><text x="431.0" y="310.6">Cd36</text><text x="357.8" y="254.3">Cd36</text><text x="432.7" y="298.6">Ptpn14</text><text x="413.9" y="313.8">Tmcc2</text><text x="357.5" y="260.0">Ypel3</text><text x="357.6" y="302.8">Mllt3</text><text x="425.6" y="221.6">Hba</text><text x="355.1" y="290.0">Trim10</text><text x="396.2" y="322.0">Tspo2</text><text x="366.9" y="248.2">Ube2l6</text><text x="367.8" y="241.8">Rhag</text><text x="459.0" y="286.7">Isg20</text><text x="375.7" y="222.6">Atp1b2</text><text x="375.3" y="310.9">Rps6</text><text x="430.2" y="227.5">Tal1</text><text x="449.4" y="250.1">Hba</text><text x="401.8" y="221.1">Atp1b2</text><text x="352.1" y="287.0">Cpox</text><text x="407.1" y="318.4">Ndufa</text><text x="361.5" y="244.8">Klf1</text><text x="419.2" y="216.8">Wdr38</text><text x="358.9" y="309.5">Scd</text><text x="455.3" y="257.0">Rhag</text><text x="352.1" y="271.6">Eif4</text><text x="447.3" y="231.2">Rhd</text><text x="424.0" y="223.3">Scd</text><text x="360.2" y="247.7">Lmo2</text><text x="414.9" y="322.5">Bcl2l1</text><text x="436.0" y="296.8">Tal1</text><text x="407.1" y="220.7">Ypel3</text><text x="449.0" y="239.1">Snca</text><text x="387.0" y="315.0">Eif4</text><text x="444.9" y="258.5">Slc25a20</text><text x="381.3" y="307.7">Ptpn14</text><text x="371.0" y="307.2">Ikzf1</text><text x="362.7" y="247.6">Cdk1</text><text x="377.1" y="312.3">Rhd</text><text x="432.3" y="317.8">Hba</text><text x="441.3" y="235.7">Spta1</text><text x="410.4" y="206.9">2810021Rik</text><text x="382.6" y="309.4">Hmgb2</text><text x="453.2" y="256.8">Mbp</text><text x="424.1" y="225.0">Mbp</text><text x="349.3" y="297.6">C330</text><text x="445.6" y="241.8">Alas2</text><text x="386.5" y="219.8">Wdr38</text><text x="423.1" y="221.5">Epb4</text><text x="396.9" y="218.6">Top2a</text><text x="404.1" y="326.9">Ndufa</text><text x="351.6" y="294.7">Fam46c</text><text x="427.2" y="231.3">Ube2l6</text><text x="450.1" y="264.5">Ube2l6</text><text x="448.1" y="259.4">Rpl13</text><text x="412.5" y="207.1">Rps6</text><text x="359.3" y="304.0">Fech</text><text x="410.6" y="215.4">Hist1</text><text x="350.7" y="257.7">Kel</text><text x="438.0" y="268.2">Ndufa</text><text x="399.0" y="324.8">Ermap</text><text x="373.5" y="235.4">Ube2l6</text><text x="438.2" y="253.1">Bach1</text><text x="393.0" y="320.8">Zfp</text><text x="347.5" y="277.8">Cd24a</text><text x="349.7" y="290.6">Ndufa</text><text x="458.1" y="259.7">Cdk1</text><text x="432.8" y="221.7">Ermap</text><text x="352.2" y="261.4">Dmtn</text><text x="383.0" y="310.9">Myb</text><text x="349.5" y="295.0">Xpo7</text><text x="370.5" y="237.4">Tubb5</text><text x="378.9" y="234.5">Top2a</text><text x="346.6" y="276.3">Dmtn</text><text x="348.1" y="277.9">Rpl13</text><text x="443.8" y="267.5">Kel</text><text x="439.8" y="248.4">Gfi1b</text><text x="448.4" y="312.4">Scd</text><text x="414.8" y="221.2">Nfe2</text><text x="433.7" y="244.6">Slc25a20</text><text x="354.9" y="261.9">Cpox</text><text x="349.7" y="301.5">Myb</text><text x="347.6" y="287.7">Ube2l6</text><text x="451.8" y="274.0">Sox6</text><text x="404.8" y="221.1">Tubb5</text><text x="439.5" y="266.4">Lrp4</text><text x="449.7" y="258.3">Ypel3</text><text x="442.5" y="240.6">Cpox</text><text x="408.6" y="223.2">Sox6</text><text x="350.9" y="273.3">Ube2l6</text><text x="390.2" y="316.7">Kel</text><text x="383.9" y="312.6">Sptb</text><text x="375.4" y="233.7">Alas2</text><text x="353.2" y="258.9">Tal1</text><text x="375.8" y="314.6">Gypa</text><text x="352.0" y="260.7">Spta1</text><text x="443.2" y="266.6">Gypa</text><text x="364.3" y="242.4">Cd24a</text><text x="350.9" y="260.0">Scd</text><text x="378.0" y="213.8">Rps6</text><text x="427.5" y="320.8">Tspo2</text><text x="415.8" y="221.2">Rpl13</text><text x="350.9" y="289.8">Tspo2</text><text x="438.2" y="288.4">Fam46c</text><text x="396.8" y="206.5">Epb4</text><text x="455.4" y="268.7">Epb4</text><text x="410.7" y="317.3">Ank1</text><text x="435.6" y="317.6">Hmgb2</text><text x="343.8" y="293.1">Nol10</text><text x="452.5" y="242.2">Ndufa</text><text x="402.3" y="214.1">Gfi1b</text><text x="376.5" y="226.5">Cpox</text><text x="367.7" y="229.5">Ppox</text><text x="413.2" y="318.6">Tspo2</text><text x="422.8" y="310.5">Gfi1b</text><text x="377.6" y="222.8">Trim10</text><text x="378.2" y="217.0">Bcl2l1</text><text x="353.5" y="255.0">Ccnb1</text><text x="428.4" y="236.4">Atp1b2</text><text x="380.3" y="231.2">Rhd</text><text x="372.8" y="240.9">Tfrc</text><text x="441.9" y="227.4">Mbp</text><text x="354.5" y="291.7">Cd24a</text><text x="343.4" y="271.8">Myb</text><text x="359.6" y="252.2">Bach1</text><text x="362.8" y="240.8">Hist1</text><text x="359.1" y="263.8">2810021Rik</text><text x="446.5" y="297.0">Trim10</text><text x="442.3" y="250.5">Atp1b2</text><text x="381.4" y="218.0">Ppox</text><text x="415.2" y="209.6">Cpox</text><text x="420.5" y="212.6">Tfrc</text><text x="355.7" y="253.8">Ube2l6</text><text x="432.9" y="305.8">Xpo7</text><text x="377.3" y="235.4">Isg20</text><text x="347.2" y="273.6">Sptb</text><text x="411.0" y="318.2">Ndufa</text><text x="448.4" y="286.1">Bcl2l1</text><text x="439.0" y="300.6">Lrp4</text><text x="444.4" y="272.8">Snca</text><text x="450.2" y="307.3">Hba</text><text x="365.8" y="312.0">Ermap</text><text x="350.2" y="278.5">Rps6</text><text x="368.3" y="239.2">Car2</text><text x="402.5" y="321.9">Ptprb1</text><text x="350.5" y="281.8">Mllt3</text><text x="425.5" y="217.0">Ppox</text><text x="356.4" y="275.2">2810021Rik</text><text x="354.4" y="272.4">Fam46c</text><text x="451.0" y="240.8">Add2</text><text x="358.0" y="252.6">Atp1b2</text><text x="386.7" y="224.3">Ypel3</text><text x="385.6" y="216.4">Ank1</text><text x="451.3" y="243.2">C330</text><text x="351.6" y="266.8">Cd24a</text><text x="437.9" y="238.0">Rhd</text><text x="438.6" y="297.9">Cdk1</text><text x="353.3" y="270.6">Hmgb2</text><text x="374.6" y="240.0">Bpgm</text><text x="436.2" y="250.4">Ptpn14</text><text x="456.6" y="288.8">2810021Rik</text><text x="400.6" y="326.4">Ccnb1</text><text x="447.3" y="249.2">Ank1</text><text x="453.3" y="274.3">Cdk1</text><text x="454.4" y="260.6">Ermap</text><text x="442.8" y="288.2">Ppox</text><text x="432.9" y="301.2">Ptpn14</text><text x="386.1" y="312.6">Bach1</text><text x="377.6" y="307.6">Kel</text><text x="375.3" y="238.7">Ptprb1</text><text x="455.2" y="309.2">Tmod1</text><text x="437.1" y="251.4">Epb4</text><text x="356.0" y="251.2">Bpgm</text><text x="363.5" y="253.4">Mllt3</text><text x="351.9" y="300.8">Klf1</text><text x="380.2" y="309.3">Fam46c</text><text x="361.8" y="306.3">Bpgm</text><text x="382.8" y="221.1">Cd36</text><text x="357.4" y="255.3">Ypel3</text><text x="450.5" y="279.5">Epb4</text><text x="375.5" y="219.7">Tspo2</text><text x="409.9" y="205.4">Sptb</text><text x="389.3" y="215.4">Car2</text><text x="357.0" y="302.7">C330</text><text x="434.0" y="309.3">Sptb</text></g>
<text x="411.00" y="204.30" font-size="6.2" fill="#454344" textLength="19.6" lengthAdjust="spacingAndGlyphs">Hbb-bh1</text>
<text x="423.20" y="208.40" font-size="6.2" fill="#454344" textLength="12.8" lengthAdjust="spacingAndGlyphs">Nek2</text>
<rect x="428.60" y="209.60" width="1.3" height="1.3" fill="#111"/>
<text x="387.50" y="209.70" font-size="6.2" fill="#454344" textLength="10.0" lengthAdjust="spacingAndGlyphs">Alad</text>
<text x="389.50" y="214.00" font-size="6.2" fill="#454344" textLength="11.0" lengthAdjust="spacingAndGlyphs">Klf1</text>
<text x="427.70" y="229.70" font-size="6.2" fill="#454344" textLength="15.7" lengthAdjust="spacingAndGlyphs">Slc4a1</text>
<text x="373.40" y="253.60" font-size="6.2" fill="#454344" textLength="12.9" lengthAdjust="spacingAndGlyphs">Gata1</text>
<text x="343.40" y="286.40" font-size="6.2" fill="#454344" textLength="16.3" lengthAdjust="spacingAndGlyphs">Eef1a1</text>
<text x="348.10" y="304.70" font-size="6.2" fill="#454344" textLength="10.6" lengthAdjust="spacingAndGlyphs">Ppia</text>
<rect x="349.40" y="305.40" width="1.3" height="1.3" fill="#111"/>
<text x="444.60" y="282.80" font-size="6.2" fill="#454344" textLength="13.7" lengthAdjust="spacingAndGlyphs">Lars2</text>
<text x="426.00" y="294.60" font-size="6.2" fill="#454344" textLength="13.0" lengthAdjust="spacingAndGlyphs">Gpc6</text>
<line x1="402.80" y1="278.50" x2="430.20" y2="228.37" stroke="#b22f8f" stroke-width="0.9" />
<polygon points="431.50,226.00 431.11,229.43 428.82,228.18" fill="#b22f8f"/>
<line x1="402.80" y1="278.50" x2="403.66" y2="252.70" stroke="#b22f8f" stroke-width="0.9" />
<polygon points="403.75,250.00 404.94,253.24 402.34,253.15" fill="#b22f8f"/>
<line x1="402.80" y1="278.50" x2="380.77" y2="268.79" stroke="#b22f8f" stroke-width="0.9" />
<polygon points="378.30,267.70 381.75,267.80 380.70,270.18" fill="#b22f8f"/>
<line x1="402.80" y1="278.50" x2="401.85" y2="331.90" stroke="#b22f8f" stroke-width="0.9" />
<polygon points="401.80,334.60 400.56,331.38 403.16,331.42" fill="#b22f8f"/>
<text x="430.40" y="225.60" font-size="6.4" fill="#b22f8f" stroke="#b22f8f" stroke-width="0.25" textLength="8.3" lengthAdjust="spacingAndGlyphs">ED</text>
<text x="401.30" y="248.10" font-size="6.4" fill="#b22f8f" stroke="#b22f8f" stroke-width="0.25" textLength="8.3" lengthAdjust="spacingAndGlyphs">EC</text>
<text x="369.90" y="268.10" font-size="6.4" fill="#b22f8f" stroke="#b22f8f" stroke-width="0.25" textLength="8.2" lengthAdjust="spacingAndGlyphs">EB</text>
<text x="397.30" y="341.40" font-size="6.4" fill="#b22f8f" stroke="#b22f8f" stroke-width="0.25" textLength="8.1" lengthAdjust="spacingAndGlyphs">EA</text>
<rect x="315.80" y="186.10" width="180.70" height="161.70" fill="none" stroke="#231f20" stroke-width="1.2"/>
<line x1="345.10" y1="347.80" x2="345.10" y2="351.20" stroke="#231f20" stroke-width="0.9" />
<text x="345.10" y="361.30" font-size="8.0" text-anchor="middle" fill="#231f20" stroke="#231f20" stroke-width="0.12" >-5</text>
<line x1="402.80" y1="347.80" x2="402.80" y2="351.20" stroke="#231f20" stroke-width="0.9" />
<text x="402.80" y="361.30" font-size="8.0" text-anchor="middle" fill="#231f20" stroke="#231f20" stroke-width="0.12" >0</text>
<line x1="460.50" y1="347.80" x2="460.50" y2="351.20" stroke="#231f20" stroke-width="0.9" />
<text x="460.50" y="361.30" font-size="8.0" text-anchor="middle" fill="#231f20" stroke="#231f20" stroke-width="0.12" >5</text>
<line x1="312.80" y1="186.10" x2="315.80" y2="186.10" stroke="#231f20" stroke-width="0.9" />
<text x="310.90" y="188.90" font-size="8.0" text-anchor="end" fill="#231f20" stroke="#231f20" stroke-width="0.12" >8</text>
<line x1="312.80" y1="209.20" x2="315.80" y2="209.20" stroke="#231f20" stroke-width="0.9" />
<text x="310.90" y="212.00" font-size="8.0" text-anchor="end" fill="#231f20" stroke="#231f20" stroke-width="0.12" >6</text>
<line x1="312.80" y1="232.30" x2="315.80" y2="232.30" stroke="#231f20" stroke-width="0.9" />
<text x="310.90" y="235.10" font-size="8.0" text-anchor="end" fill="#231f20" stroke="#231f20" stroke-width="0.12" >4</text>
<line x1="312.80" y1="255.40" x2="315.80" y2="255.40" stroke="#231f20" stroke-width="0.9" />
<text x="310.90" y="258.20" font-size="8.0" text-anchor="end" fill="#231f20" stroke="#231f20" stroke-width="0.12" >2</text>
<line x1="312.80" y1="278.50" x2="315.80" y2="278.50" stroke="#231f20" stroke-width="0.9" />
<text x="310.90" y="281.30" font-size="8.0" text-anchor="end" fill="#231f20" stroke="#231f20" stroke-width="0.12" >0</text>
<line x1="312.80" y1="301.60" x2="315.80" y2="301.60" stroke="#231f20" stroke-width="0.9" />
<text x="310.90" y="304.40" font-size="8.0" text-anchor="end" fill="#231f20" stroke="#231f20" stroke-width="0.12" >-2</text>
<line x1="312.80" y1="324.70" x2="315.80" y2="324.70" stroke="#231f20" stroke-width="0.9" />
<text x="310.90" y="327.50" font-size="8.0" text-anchor="end" fill="#231f20" stroke="#231f20" stroke-width="0.12" >-4</text>
<line x1="312.80" y1="347.80" x2="315.80" y2="347.80" stroke="#231f20" stroke-width="0.9" />
<text x="310.90" y="350.60" font-size="8.0" text-anchor="end" fill="#231f20" stroke="#231f20" stroke-width="0.12" >-6</text>
<text x="324.60" y="181.40" font-size="9.9" text-anchor="start" fill="#231f20" stroke="#231f20" stroke-width="0.12" textLength="163.09999999999997" lengthAdjust="spacingAndGlyphs" >Map of 10120 Genes as Individuals (PCA)</text>
<text x="378.80" y="374.70" font-size="10.0" text-anchor="start" fill="#231f20" stroke="#231f20" stroke-width="0.12" textLength="55.39999999999998" lengthAdjust="spacingAndGlyphs" >Dim 1 (6.73%)</text>
<text transform="translate(297.00,266.40) rotate(-90)" font-size="10.0" text-anchor="middle" fill="#231f20" stroke="#231f20" stroke-width="0.12" textLength="57.0" lengthAdjust="spacingAndGlyphs">Dim 2 (5.38%)</text>
<text x="283.20" y="170.00" font-size="11.0" text-anchor="start" fill="#231f20" stroke="#231f20" stroke-width="0.12" >C</text>
<rect x="0" y="0" width="520" height="1" fill="#555"/>
<rect x="0" y="1" width="520" height="1" fill="#cacaca"/>
<rect x="0" y="0" width="1" height="384" fill="#151515"/>
<rect x="1" y="0" width="1" height="384" fill="#e2e2e2"/>
<rect x="519" y="0" width="1" height="384" fill="#444"/>
<rect x="518" y="0" width="1" height="384" fill="#a8a8a8"/>
<rect x="0" y="383" width="520" height="1" fill="#444"/>
<rect x="0" y="382" width="520" height="1" fill="#a8a8a8"/>
</svg></body></html>
